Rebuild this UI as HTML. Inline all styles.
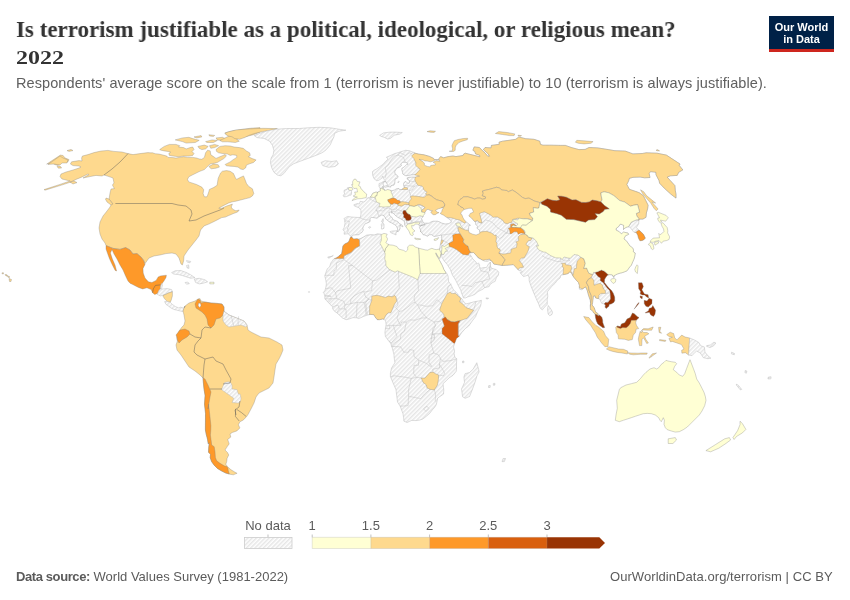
<!DOCTYPE html>
<html><head><meta charset="utf-8">
<style>
html,body{margin:0;padding:0;background:#fff;}
.t,svg,#logo{will-change:transform;}
body{width:850px;height:600px;overflow:hidden;position:relative;}
.t{position:absolute;white-space:nowrap;}
#title{left:16px;top:16px;font-family:"Liberation Serif",serif;font-weight:bold;font-size:24px;color:#333;transform:scaleX(0.958);transform-origin:0 0;}
#year{left:16px;top:48px;font-family:"Liberation Serif",serif;font-weight:bold;font-size:18px;color:#333;transform:scaleX(1.33);transform-origin:0 0;}
#sub{left:16px;top:74.5px;font-family:"Liberation Sans",sans-serif;font-size:14.5px;color:#606060;letter-spacing:0.09px;}
#src{left:16px;top:569px;font-family:"Liberation Sans",sans-serif;font-size:13px;color:#5b5b5b;}
#url{right:17.5px;top:569px;font-family:"Liberation Sans",sans-serif;font-size:13px;color:#5b5b5b;letter-spacing:0.06px;}
#logo{position:absolute;left:769px;top:16px;width:65px;height:36px;background:#002147;}
#logo .bar{position:absolute;left:0;bottom:0;width:65px;height:3px;background:#ce261e;}
#logo .tx{position:absolute;left:0;width:65px;text-align:center;color:#fff;font-family:"Liberation Sans",sans-serif;font-weight:bold;font-size:11px;line-height:12px;}
svg{position:absolute;left:0;top:0;}
.b{stroke:#7a7a7a;stroke-width:0.4;stroke-opacity:0.8;stroke-linejoin:round;}
.s{stroke:#7a7a7a;stroke-width:0.4;stroke-opacity:0.8;stroke-linejoin:round;}
.bn{stroke:#b5b5b5;stroke-width:0.45;stroke-linejoin:round;}
.ln{fill:none;stroke:#bdbdbd;stroke-width:0.45;stroke-linejoin:round;}
.l{fill:none;stroke:#555;stroke-width:0.6;stroke-opacity:0.75;}
.leg{font-family:"Liberation Sans",sans-serif;font-size:13px;fill:#5b5b5b;}
</style></head><body>
<div class="t" id="title">Is terrorism justifiable as a political, ideological, or religious mean?</div>
<div class="t" id="year">2022</div>
<div class="t" id="sub">Respondents' average score on the scale from 1 (terrorism is never justifiable) to 10 (terrorism is always justifiable).</div>
<div id="logo"><div class="tx" style="top:5px">Our World</div><div class="tx" style="top:17px">in Data</div><div class="bar"></div></div>
<svg width="850" height="600" viewBox="0 0 850 600">
<defs>
<pattern id="hatch" patternUnits="userSpaceOnUse" width="3" height="3" patternTransform="rotate(-45)">
<rect width="3" height="3" fill="#fff"/><rect y="0" width="3" height="1.5" fill="#e6e6e6"/>
</pattern>
</defs>
<g id="map">
<clipPath id="landclip"><path d="M351.2,236.8 L349.7,235.5 L348.3,233.7 L344.1,234.2 L344.4,231.6 L343.0,229.7 L344.2,227.4 L345.0,223.2 L344.7,219.9 L343.9,218.6 L345.8,217.5 L347.3,216.5 L351.5,217.0 L355.4,217.3 L359.6,217.5 L360.3,217.3 L360.9,214.4 L360.9,210.3 L358.9,207.7 L354.4,206.0 L353.9,204.7 L357.3,203.6 L359.3,203.9 L360.2,201.3 L363.6,201.9 L365.6,200.8 L367.2,198.1 L369.2,197.6 L370.6,196.8 L371.5,195.6 L372.8,193.3 L376.1,192.0 L377.5,192.3 L379.2,191.5 L380.4,190.8 L380.0,188.0 L379.0,186.6 L379.0,183.6 L381.4,182.7 L383.4,181.4 L385.7,181.4 L384.4,179.7 L383.2,178.3 L382.8,176.1 L381.7,178.3 L378.5,180.5 L376.6,180.7 L373.9,178.5 L372.6,174.9 L372.5,171.6 L374.6,169.9 L376.9,168.8 L379.4,166.9 L382.8,164.5 L385.2,161.8 L388.1,158.9 L386.4,157.3 L390.4,155.5 L395.0,153.5 L398.3,152.6 L402.2,151.3 L405.7,150.3 L409.4,150.7 L413.1,152.2 L415.1,153.2 L418.7,154.1 L423.9,154.8 L429.5,156.4 L433.6,158.4 L434.4,159.8 L438.9,159.8 L439.1,158.4 L440.6,156.6 L443.6,157.8 L448.2,156.6 L453.0,156.0 L455.9,156.6 L459.8,156.0 L462.9,155.5 L463.8,153.9 L465.2,153.2 L470.9,154.6 L476.7,156.0 L479.8,156.9 L479.7,155.3 L475.5,153.9 L474.9,151.5 L472.9,150.3 L474.2,146.9 L479.4,147.5 L482.5,150.7 L484.9,152.8 L487.8,156.2 L489.5,156.2 L488.1,153.9 L483.4,149.6 L485.1,147.5 L491.1,147.9 L491.4,145.4 L499.3,144.3 L499.0,142.2 L502.6,141.2 L509.2,140.3 L515.7,139.3 L518.8,137.0 L525.6,138.7 L534.0,139.3 L539.8,141.2 L540.4,144.3 L542.9,145.2 L550.9,145.2 L560.6,145.4 L565.4,145.4 L571.3,147.5 L578.9,149.6 L585.2,149.4 L589.0,147.5 L597.7,147.9 L608.3,149.6 L614.8,150.7 L625.3,151.1 L632.9,153.9 L642.3,153.5 L646.3,152.8 L657.0,153.2 L666.4,155.1 L680.1,164.1 L679.1,165.2 L682.8,169.9 L678.7,172.3 L677.2,175.4 L670.4,175.8 L667.2,177.1 L670.4,180.7 L674.9,185.6 L675.3,190.5 L676.0,194.3 L676.0,198.1 L671.0,194.3 L664.1,188.0 L659.6,183.2 L659.1,180.7 L656.0,174.7 L655.9,172.3 L650.5,171.6 L649.1,173.5 L650.0,177.5 L644.7,177.8 L640.2,177.1 L633.1,177.3 L629.4,178.3 L628.5,181.2 L626.8,184.4 L629.4,189.3 L639.0,192.6 L643.3,195.6 L645.8,200.6 L648.1,205.2 L647.6,208.8 L646.4,212.9 L646.0,217.3 L642.9,219.1 L639.7,219.1 L638.8,220.4 L638.7,223.7 L637.2,226.3 L636.2,227.6 L639.0,230.0 L643.4,234.2 L645.3,238.1 L644.2,239.4 L642.2,240.5 L639.9,240.7 L638.5,238.1 L637.9,235.5 L636.4,232.6 L634.1,232.4 L632.7,230.8 L629.9,227.1 L627.2,226.9 L624.6,228.2 L623.5,229.5 L623.5,227.6 L623.7,225.3 L620.4,224.0 L618.6,226.6 L616.2,228.4 L616.0,230.0 L619.4,231.8 L621.4,233.9 L623.6,232.1 L628.0,233.1 L628.6,234.4 L625.5,235.7 L623.9,238.9 L626.7,241.2 L629.7,245.7 L632.8,248.1 L633.5,250.2 L633.2,251.7 L635.2,253.0 L634.6,257.2 L633.6,259.9 L632.2,263.0 L631.4,265.1 L629.8,266.9 L626.9,270.9 L622.1,272.7 L620.5,273.0 L617.3,274.0 L614.2,275.6 L613.9,278.0 L612.2,274.8 L609.5,274.6 L607.3,275.3 L605.7,277.4 L604.6,279.3 L604.4,282.4 L606.6,285.3 L608.8,287.9 L611.5,290.5 L613.2,293.2 L614.6,297.1 L614.7,300.8 L613.7,302.4 L611.1,303.9 L609.3,304.2 L608.8,306.3 L606.1,308.4 L605.1,307.1 L605.5,305.0 L604.2,303.9 L601.8,303.4 L600.5,301.0 L600.1,299.5 L598.6,298.7 L595.6,297.9 L595.1,295.8 L593.3,296.1 L593.1,298.4 L592.6,302.6 L592.1,305.0 L593.8,307.1 L594.9,309.4 L595.7,312.3 L597.4,313.1 L599.6,314.9 L601.8,317.3 L602.6,320.2 L602.7,322.5 L603.6,324.9 L604.6,327.5 L603.0,327.8 L600.9,326.2 L597.8,323.9 L596.4,321.0 L595.6,317.8 L595.1,314.2 L593.7,313.1 L592.2,310.5 L590.3,309.4 L590.1,306.3 L590.6,303.7 L590.3,300.3 L588.7,295.8 L587.2,290.3 L585.6,286.9 L583.9,287.9 L581.9,289.8 L579.3,289.2 L579.4,285.3 L578.4,282.4 L576.3,280.3 L573.8,277.2 L572.6,275.3 L571.3,272.5 L569.4,271.9 L568.3,273.5 L565.2,274.3 L563.4,274.6 L560.8,275.3 L560.1,278.0 L557.2,280.3 L555.2,283.2 L551.5,286.6 L549.3,289.5 L547.3,291.9 L547.8,296.1 L547.2,299.7 L547.3,304.2 L545.4,306.5 L543.8,307.9 L542.3,310.0 L540.1,307.9 L538.8,304.2 L536.9,300.3 L535.0,295.8 L533.3,291.9 L530.9,285.8 L529.2,280.8 L529.1,277.4 L528.1,275.1 L526.8,275.6 L523.5,276.6 L520.1,272.7 L522.3,271.9 L521.5,270.9 L518.8,270.6 L517.5,269.0 L514.9,266.2 L513.3,264.6 L508.7,265.1 L503.8,265.4 L502.0,265.4 L497.3,264.6 L493.9,264.1 L491.7,260.9 L489.8,260.1 L487.9,261.4 L484.5,261.2 L480.9,259.3 L478.1,258.0 L476.0,255.1 L473.5,252.5 L471.3,252.8 L470.1,252.5 L469.8,254.1 L471.4,256.5 L472.6,258.6 L474.4,260.4 L476.1,262.2 L477.0,264.3 L478.4,262.8 L479.6,264.8 L479.6,266.9 L480.8,268.3 L483.0,267.7 L486.4,267.5 L488.3,264.3 L489.5,263.0 L490.1,262.2 L490.3,265.9 L491.6,268.3 L494.2,269.0 L496.3,269.6 L498.8,272.2 L498.4,275.1 L496.4,277.7 L495.1,281.4 L492.9,282.4 L490.1,284.5 L489.1,286.6 L484.6,287.7 L482.9,289.2 L478.0,291.6 L474.7,294.5 L471.3,295.8 L467.9,296.8 L465.7,297.9 L463.4,297.9 L462.9,296.3 L461.6,293.2 L460.8,290.3 L458.2,285.3 L455.6,280.1 L452.3,274.8 L450.4,269.6 L447.1,264.3 L444.1,260.9 L442.1,257.5 L441.1,253.8 L440.4,256.5 L439.9,258.3 L438.2,257.0 L435.9,252.8 L435.8,253.8 L437.0,256.2 L439.1,259.6 L442.3,265.6 L443.9,269.6 L446.8,273.5 L448.1,276.1 L448.6,281.4 L451.3,285.3 L453.4,289.8 L456.3,292.4 L459.2,296.1 L462.5,299.5 L463.0,300.8 L465.9,303.9 L469.4,303.1 L473.9,301.8 L478.5,301.0 L481.4,300.3 L481.1,303.7 L480.5,306.3 L477.7,311.5 L475.5,316.8 L472.1,321.2 L468.7,326.0 L465.3,328.6 L461.8,332.5 L459.5,335.9 L456.4,338.5 L454.8,343.0 L453.5,346.9 L454.6,350.9 L454.1,353.5 L454.9,357.4 L456.7,358.7 L456.5,364.0 L456.5,369.2 L456.2,371.3 L453.0,375.3 L449.0,377.9 L446.6,380.5 L443.0,383.7 L443.5,387.6 L443.8,390.2 L443.5,394.1 L437.7,398.1 L437.2,400.7 L436.3,404.6 L434.7,407.3 L432.3,409.9 L429.8,413.3 L426.2,416.4 L422.7,419.1 L419.7,420.1 L416.0,420.6 L411.6,420.4 L407.1,422.5 L403.9,421.2 L403.6,417.7 L403.0,413.8 L400.2,406.2 L397.5,402.0 L396.2,391.5 L396.0,389.7 L393.4,383.7 L390.4,376.6 L390.4,373.2 L391.6,367.9 L394.9,362.7 L394.3,358.7 L393.9,354.3 L392.3,348.2 L391.6,346.4 L390.7,343.0 L388.8,341.2 L385.4,336.4 L384.9,332.5 L385.4,328.6 L386.1,324.6 L385.6,320.7 L383.8,319.4 L382.6,318.9 L379.6,319.7 L377.3,319.9 L375.0,316.8 L373.8,314.7 L370.3,314.4 L366.9,315.2 L363.4,316.5 L358.8,318.6 L356.5,317.8 L353.0,317.6 L349.5,318.9 L346.1,319.7 L342.6,318.1 L339.1,314.9 L336.8,312.8 L334.5,311.3 L332.7,308.9 L332.7,306.8 L330.0,304.4 L328.4,302.4 L326.1,300.3 L324.8,298.4 L324.8,295.8 L323.9,293.2 L323.3,292.6 L324.9,290.5 L325.7,287.9 L326.4,284.0 L325.8,280.1 L324.8,276.1 L326.0,272.2 L327.3,268.8 L329.6,266.9 L330.8,263.0 L333.6,259.1 L336.6,257.8 L340.0,255.1 L341.6,253.8 L342.1,251.2 L342.9,246.0 L344.7,243.9 L348.0,242.6 L349.2,240.7 L350.3,237.6 L351.7,237.1Z"/></clipPath>
<path d="M351.2,236.8 L349.7,235.5 L348.3,233.7 L344.1,234.2 L344.4,231.6 L343.0,229.7 L344.2,227.4 L345.0,223.2 L344.7,219.9 L343.9,218.6 L345.8,217.5 L347.3,216.5 L351.5,217.0 L355.4,217.3 L359.6,217.5 L360.3,217.3 L360.9,214.4 L360.9,210.3 L358.9,207.7 L354.4,206.0 L353.9,204.7 L357.3,203.6 L359.3,203.9 L360.2,201.3 L363.6,201.9 L365.6,200.8 L367.2,198.1 L369.2,197.6 L370.6,196.8 L371.5,195.6 L372.8,193.3 L376.1,192.0 L377.5,192.3 L379.2,191.5 L380.4,190.8 L380.0,188.0 L379.0,186.6 L379.0,183.6 L381.4,182.7 L383.4,181.4 L385.7,181.4 L384.4,179.7 L383.2,178.3 L382.8,176.1 L381.7,178.3 L378.5,180.5 L376.6,180.7 L373.9,178.5 L372.6,174.9 L372.5,171.6 L374.6,169.9 L376.9,168.8 L379.4,166.9 L382.8,164.5 L385.2,161.8 L388.1,158.9 L386.4,157.3 L390.4,155.5 L395.0,153.5 L398.3,152.6 L402.2,151.3 L405.7,150.3 L409.4,150.7 L413.1,152.2 L415.1,153.2 L418.7,154.1 L423.9,154.8 L429.5,156.4 L433.6,158.4 L434.4,159.8 L438.9,159.8 L439.1,158.4 L440.6,156.6 L443.6,157.8 L448.2,156.6 L453.0,156.0 L455.9,156.6 L459.8,156.0 L462.9,155.5 L463.8,153.9 L465.2,153.2 L470.9,154.6 L476.7,156.0 L479.8,156.9 L479.7,155.3 L475.5,153.9 L474.9,151.5 L472.9,150.3 L474.2,146.9 L479.4,147.5 L482.5,150.7 L484.9,152.8 L487.8,156.2 L489.5,156.2 L488.1,153.9 L483.4,149.6 L485.1,147.5 L491.1,147.9 L491.4,145.4 L499.3,144.3 L499.0,142.2 L502.6,141.2 L509.2,140.3 L515.7,139.3 L518.8,137.0 L525.6,138.7 L534.0,139.3 L539.8,141.2 L540.4,144.3 L542.9,145.2 L550.9,145.2 L560.6,145.4 L565.4,145.4 L571.3,147.5 L578.9,149.6 L585.2,149.4 L589.0,147.5 L597.7,147.9 L608.3,149.6 L614.8,150.7 L625.3,151.1 L632.9,153.9 L642.3,153.5 L646.3,152.8 L657.0,153.2 L666.4,155.1 L680.1,164.1 L679.1,165.2 L682.8,169.9 L678.7,172.3 L677.2,175.4 L670.4,175.8 L667.2,177.1 L670.4,180.7 L674.9,185.6 L675.3,190.5 L676.0,194.3 L676.0,198.1 L671.0,194.3 L664.1,188.0 L659.6,183.2 L659.1,180.7 L656.0,174.7 L655.9,172.3 L650.5,171.6 L649.1,173.5 L650.0,177.5 L644.7,177.8 L640.2,177.1 L633.1,177.3 L629.4,178.3 L628.5,181.2 L626.8,184.4 L629.4,189.3 L639.0,192.6 L643.3,195.6 L645.8,200.6 L648.1,205.2 L647.6,208.8 L646.4,212.9 L646.0,217.3 L642.9,219.1 L639.7,219.1 L638.8,220.4 L638.7,223.7 L637.2,226.3 L636.2,227.6 L639.0,230.0 L643.4,234.2 L645.3,238.1 L644.2,239.4 L642.2,240.5 L639.9,240.7 L638.5,238.1 L637.9,235.5 L636.4,232.6 L634.1,232.4 L632.7,230.8 L629.9,227.1 L627.2,226.9 L624.6,228.2 L623.5,229.5 L623.5,227.6 L623.7,225.3 L620.4,224.0 L618.6,226.6 L616.2,228.4 L616.0,230.0 L619.4,231.8 L621.4,233.9 L623.6,232.1 L628.0,233.1 L628.6,234.4 L625.5,235.7 L623.9,238.9 L626.7,241.2 L629.7,245.7 L632.8,248.1 L633.5,250.2 L633.2,251.7 L635.2,253.0 L634.6,257.2 L633.6,259.9 L632.2,263.0 L631.4,265.1 L629.8,266.9 L626.9,270.9 L622.1,272.7 L620.5,273.0 L617.3,274.0 L614.2,275.6 L613.9,278.0 L612.2,274.8 L609.5,274.6 L607.3,275.3 L605.7,277.4 L604.6,279.3 L604.4,282.4 L606.6,285.3 L608.8,287.9 L611.5,290.5 L613.2,293.2 L614.6,297.1 L614.7,300.8 L613.7,302.4 L611.1,303.9 L609.3,304.2 L608.8,306.3 L606.1,308.4 L605.1,307.1 L605.5,305.0 L604.2,303.9 L601.8,303.4 L600.5,301.0 L600.1,299.5 L598.6,298.7 L595.6,297.9 L595.1,295.8 L593.3,296.1 L593.1,298.4 L592.6,302.6 L592.1,305.0 L593.8,307.1 L594.9,309.4 L595.7,312.3 L597.4,313.1 L599.6,314.9 L601.8,317.3 L602.6,320.2 L602.7,322.5 L603.6,324.9 L604.6,327.5 L603.0,327.8 L600.9,326.2 L597.8,323.9 L596.4,321.0 L595.6,317.8 L595.1,314.2 L593.7,313.1 L592.2,310.5 L590.3,309.4 L590.1,306.3 L590.6,303.7 L590.3,300.3 L588.7,295.8 L587.2,290.3 L585.6,286.9 L583.9,287.9 L581.9,289.8 L579.3,289.2 L579.4,285.3 L578.4,282.4 L576.3,280.3 L573.8,277.2 L572.6,275.3 L571.3,272.5 L569.4,271.9 L568.3,273.5 L565.2,274.3 L563.4,274.6 L560.8,275.3 L560.1,278.0 L557.2,280.3 L555.2,283.2 L551.5,286.6 L549.3,289.5 L547.3,291.9 L547.8,296.1 L547.2,299.7 L547.3,304.2 L545.4,306.5 L543.8,307.9 L542.3,310.0 L540.1,307.9 L538.8,304.2 L536.9,300.3 L535.0,295.8 L533.3,291.9 L530.9,285.8 L529.2,280.8 L529.1,277.4 L528.1,275.1 L526.8,275.6 L523.5,276.6 L520.1,272.7 L522.3,271.9 L521.5,270.9 L518.8,270.6 L517.5,269.0 L514.9,266.2 L513.3,264.6 L508.7,265.1 L503.8,265.4 L502.0,265.4 L497.3,264.6 L493.9,264.1 L491.7,260.9 L489.8,260.1 L487.9,261.4 L484.5,261.2 L480.9,259.3 L478.1,258.0 L476.0,255.1 L473.5,252.5 L471.3,252.8 L470.1,252.5 L469.8,254.1 L471.4,256.5 L472.6,258.6 L474.4,260.4 L476.1,262.2 L477.0,264.3 L478.4,262.8 L479.6,264.8 L479.6,266.9 L480.8,268.3 L483.0,267.7 L486.4,267.5 L488.3,264.3 L489.5,263.0 L490.1,262.2 L490.3,265.9 L491.6,268.3 L494.2,269.0 L496.3,269.6 L498.8,272.2 L498.4,275.1 L496.4,277.7 L495.1,281.4 L492.9,282.4 L490.1,284.5 L489.1,286.6 L484.6,287.7 L482.9,289.2 L478.0,291.6 L474.7,294.5 L471.3,295.8 L467.9,296.8 L465.7,297.9 L463.4,297.9 L462.9,296.3 L461.6,293.2 L460.8,290.3 L458.2,285.3 L455.6,280.1 L452.3,274.8 L450.4,269.6 L447.1,264.3 L444.1,260.9 L442.1,257.5 L441.1,253.8 L440.4,256.5 L439.9,258.3 L438.2,257.0 L435.9,252.8 L435.8,253.8 L437.0,256.2 L439.1,259.6 L442.3,265.6 L443.9,269.6 L446.8,273.5 L448.1,276.1 L448.6,281.4 L451.3,285.3 L453.4,289.8 L456.3,292.4 L459.2,296.1 L462.5,299.5 L463.0,300.8 L465.9,303.9 L469.4,303.1 L473.9,301.8 L478.5,301.0 L481.4,300.3 L481.1,303.7 L480.5,306.3 L477.7,311.5 L475.5,316.8 L472.1,321.2 L468.7,326.0 L465.3,328.6 L461.8,332.5 L459.5,335.9 L456.4,338.5 L454.8,343.0 L453.5,346.9 L454.6,350.9 L454.1,353.5 L454.9,357.4 L456.7,358.7 L456.5,364.0 L456.5,369.2 L456.2,371.3 L453.0,375.3 L449.0,377.9 L446.6,380.5 L443.0,383.7 L443.5,387.6 L443.8,390.2 L443.5,394.1 L437.7,398.1 L437.2,400.7 L436.3,404.6 L434.7,407.3 L432.3,409.9 L429.8,413.3 L426.2,416.4 L422.7,419.1 L419.7,420.1 L416.0,420.6 L411.6,420.4 L407.1,422.5 L403.9,421.2 L403.6,417.7 L403.0,413.8 L400.2,406.2 L397.5,402.0 L396.2,391.5 L396.0,389.7 L393.4,383.7 L390.4,376.6 L390.4,373.2 L391.6,367.9 L394.9,362.7 L394.3,358.7 L393.9,354.3 L392.3,348.2 L391.6,346.4 L390.7,343.0 L388.8,341.2 L385.4,336.4 L384.9,332.5 L385.4,328.6 L386.1,324.6 L385.6,320.7 L383.8,319.4 L382.6,318.9 L379.6,319.7 L377.3,319.9 L375.0,316.8 L373.8,314.7 L370.3,314.4 L366.9,315.2 L363.4,316.5 L358.8,318.6 L356.5,317.8 L353.0,317.6 L349.5,318.9 L346.1,319.7 L342.6,318.1 L339.1,314.9 L336.8,312.8 L334.5,311.3 L332.7,308.9 L332.7,306.8 L330.0,304.4 L328.4,302.4 L326.1,300.3 L324.8,298.4 L324.8,295.8 L323.9,293.2 L323.3,292.6 L324.9,290.5 L325.7,287.9 L326.4,284.0 L325.8,280.1 L324.8,276.1 L326.0,272.2 L327.3,268.8 L329.6,266.9 L330.8,263.0 L333.6,259.1 L336.6,257.8 L340.0,255.1 L341.6,253.8 L342.1,251.2 L342.9,246.0 L344.7,243.9 L348.0,242.6 L349.2,240.7 L350.3,237.6 L351.7,237.1Z" fill="url(#hatch)" class="bn"/>
<g clip-path="url(#landclip)"><path d="M408.2,146.4 L415.1,153.2 L412.9,154.6 L411.6,156.2 L413.9,158.4 L414.8,160.7 L415.9,162.9 L415.6,165.2 L417.9,167.6 L420.1,169.2 L418.0,171.8 L415.7,173.9 L414.6,174.7 L415.4,177.1 L415.0,177.8 L414.8,179.5 L415.3,181.2 L416.1,182.4 L417.2,184.4 L418.4,185.4 L422.0,186.1 L423.3,187.8 L423.4,189.3 L425.3,191.0 L427.1,192.3 L425.4,193.8 L427.1,195.3 L429.6,194.8 L431.9,196.3 L434.0,198.1 L436.6,199.8 L439.8,200.6 L443.0,201.6 L444.6,204.4 L444.5,206.2 L441.8,207.7 L440.0,212.1 L439.2,213.4 L441.1,214.9 L446.4,218.0 L447.2,217.5 L450.4,217.8 L453.2,218.3 L455.9,219.3 L459.2,219.9 L461.6,221.4 L464.8,223.2 L466.1,221.7 L464.0,216.0 L462.7,212.1 L465.3,210.0 L462.9,207.7 L460.3,206.5 L458.9,204.9 L457.8,204.7 L458.7,201.3 L460.0,199.6 L460.8,199.1 L463.8,196.8 L467.7,196.8 L472.1,198.1 L474.5,199.1 L477.1,198.1 L480.1,198.1 L482.5,199.3 L485.3,198.6 L485.6,196.8 L482.2,195.6 L483.3,193.3 L482.5,191.0 L484.2,190.5 L489.6,189.3 L496.5,187.3 L499.7,188.0 L501.6,190.0 L506.7,190.5 L508.2,191.8 L512.3,190.0 L516.1,192.3 L522.7,197.6 L525.2,198.6 L529.0,198.1 L534.5,201.1 L539.8,202.6 L540.9,201.9 L544.3,200.6 L547.3,198.8 L552.2,200.3 L556.5,200.8 L559.9,199.8 L557.7,196.1 L561.8,196.3 L566.4,197.3 L572.1,200.1 L576.0,199.8 L581.5,202.4 L585.7,202.6 L589.3,201.9 L592.2,200.1 L596.7,200.8 L601.0,201.9 L602.1,199.8 L601.3,196.1 L600.9,192.8 L604.1,191.8 L608.8,192.8 L613.8,195.6 L619.7,200.6 L624.7,202.1 L630.5,206.2 L633.9,205.2 L637.6,204.7 L638.2,207.0 L639.6,212.1 L636.3,213.4 L636.8,216.0 L638.8,218.6 L638.3,219.9 L641.5,223.7 L683.6,226.3 L749.7,226.3 L739.1,213.4 L727.2,200.6 L713.4,188.0 L698.2,175.8 L681.9,164.1 L664.6,152.8 L645.6,142.2 L623.8,132.5 L607.4,126.3 L565.6,126.3 L525.2,126.3 L484.7,126.3 L444.3,126.3 L408.2,146.4Z" fill="#fed98e" class="b"/>
<path d="M401.5,189.5 L407.7,189.5 L407.3,187.8 L404.3,187.3 L402.1,188.0Z" fill="#fed98e" class="b"/>
<path d="M464.7,210.0 L462.9,207.7 L460.3,206.5 L458.9,204.9 L457.8,204.7 L458.7,201.3 L460.0,199.6 L460.8,199.1 L463.8,196.8 L467.7,196.8 L472.1,198.1 L474.5,199.1 L477.1,198.1 L480.1,198.1 L482.5,199.3 L485.3,198.6 L485.6,196.8 L482.2,195.6 L483.3,193.3 L482.5,191.0 L484.2,190.5 L489.6,189.3 L496.5,187.3 L499.7,188.0 L501.6,190.0 L506.7,190.5 L508.2,191.8 L512.3,190.0 L516.1,192.3 L522.7,197.6 L525.2,198.6 L529.0,198.1 L534.5,201.1 L539.8,202.6 L539.6,204.4 L538.9,208.0 L537.6,208.3 L533.3,207.7 L533.7,212.1 L529.4,213.4 L530.6,216.0 L532.8,218.0 L532.5,220.6 L529.4,219.1 L525.0,218.6 L521.0,219.1 L517.6,218.3 L512.8,219.6 L511.6,222.4 L509.5,222.7 L507.7,223.7 L504.8,223.2 L502.3,219.9 L497.3,217.0 L493.2,217.3 L490.4,214.9 L484.4,211.8 L479.6,213.4 L482.1,223.0 L480.0,223.0 L477.2,220.4 L475.0,221.7 L470.5,218.6 L467.5,214.7 L467.9,212.1 L470.3,209.5 L465.3,210.0Z" fill="#fed98e" class="b"/>
<path d="M408.3,204.7 L409.1,201.6 L411.4,198.8 L410.3,196.6 L412.9,195.8 L419.0,196.6 L424.1,197.3 L426.3,195.3 L429.0,194.8 L431.7,196.3 L434.0,198.1 L436.6,199.8 L439.8,200.6 L443.0,201.6 L444.6,204.4 L444.5,206.2 L441.8,207.7 L440.4,208.8 L437.9,210.0 L439.6,212.6 L436.4,215.7 L432.9,215.7 L430.0,212.1 L427.3,210.3 L426.1,211.8 L425.4,212.9 L421.7,212.1 L421.5,210.3 L422.8,209.5 L424.8,207.5 L422.9,206.0 L420.3,204.9 L418.2,204.7 L417.5,205.2 L414.2,206.5 L410.3,206.0 L408.3,204.7Z" fill="#fed98e" class="b"/>
<path d="M370.2,197.3 L372.2,197.1 L375.2,198.1 L375.3,196.1 L376.9,195.8 L377.2,194.3 L377.5,192.3 L375.1,190.5 L369.3,193.1 L370.0,197.1Z" fill="#ffffd4" class="b"/>
<path d="M375.6,198.6 L376.3,201.9 L378.6,202.9 L380.0,203.4 L378.9,206.7 L381.0,206.7 L382.8,207.0 L384.8,207.0 L388.3,206.7 L390.0,207.0 L391.0,204.2 L388.6,202.1 L387.9,199.8 L391.9,198.3 L392.9,198.1 L393.2,196.8 L392.2,194.3 L391.2,192.3 L391.3,190.5 L388.6,189.0 L384.8,189.3 L382.6,188.5 L380.2,188.3 L379.4,190.5 L377.5,192.3 L377.2,194.3 L376.9,195.8 L375.3,196.1 L375.2,198.1Z" fill="#ffffd4" class="b"/>
<path d="M387.7,199.8 L388.6,202.1 L391.0,204.2 L393.2,204.2 L393.7,203.1 L397.7,204.2 L399.4,203.4 L400.9,201.9 L399.4,200.6 L397.1,200.1 L395.8,198.8 L393.9,198.1 L391.9,198.3 L387.9,199.8Z" fill="#fe9929" class="b"/>
<path d="M397.7,204.2 L398.4,205.7 L401.7,206.2 L405.0,204.4 L409.1,204.7 L408.9,202.9 L405.8,202.1 L402.7,201.6 L400.9,201.9 L399.4,203.4Z" fill="#fed98e" class="b"/>
<path d="M405.2,210.6 L407.0,209.8 L408.4,207.2 L410.0,205.7 L414.2,206.5 L417.5,205.2 L421.2,208.5 L421.7,212.1 L426.0,212.6 L425.8,214.7 L424.0,216.7 L423.2,216.7 L420.1,215.7 L416.7,217.0 L413.6,216.7 L410.8,216.2 L410.0,214.7 L407.9,213.9 L405.2,210.6Z" fill="#ffffd4" class="b"/>
<path d="M402.9,213.6 L403.8,214.9 L403.6,217.3 L405.4,218.6 L406.2,220.4 L408.7,220.4 L410.6,219.9 L411.4,218.0 L410.0,214.7 L407.9,213.9 L406.9,212.9 L405.4,210.6 L403.8,210.3 L402.7,212.1Z" fill="#993404" class="b"/>
<path d="M405.7,226.9 L407.4,224.3 L408.0,224.0 L411.3,223.5 L414.2,222.2 L418.6,221.9 L419.8,223.0 L418.9,224.5 L418.2,227.6 L420.4,230.8 L421.8,234.2 L417.7,236.8 L412.3,237.3 L409.6,235.5 L407.8,232.1 L407.0,229.5Z" fill="#ffffd4" class="b"/>
<path d="M455.7,223.5 L459.3,222.7 L460.3,224.3 L461.2,226.3 L463.0,228.4 L462.6,229.5 L459.8,226.9 L457.2,225.8 L456.2,225.0Z" fill="#ffffd4" class="b"/>
<path d="M448.6,243.6 L453.1,241.0 L452.7,235.2 L455.1,233.9 L460.2,233.7 L462.3,237.1 L463.8,239.4 L463.1,242.0 L465.7,244.7 L468.1,246.2 L469.3,249.9 L471.2,252.5 L469.5,252.8 L468.2,254.9 L467.0,254.9 L463.0,254.6 L456.4,249.6 L452.6,247.5 L449.4,246.5 L448.6,243.6Z" fill="#fe9929" class="b"/>
<path d="M457.8,227.9 L459.2,227.1 L463.2,229.2 L466.6,230.3 L469.8,230.3 L473.3,231.6 L477.6,231.6 L480.3,232.1 L482.9,231.6 L486.8,231.3 L491.4,232.9 L494.5,235.2 L496.1,235.2 L496.4,237.8 L496.0,242.0 L497.1,243.3 L496.9,246.0 L498.1,248.6 L499.9,249.1 L500.4,250.4 L498.9,253.0 L500.2,254.4 L503.0,257.0 L505.2,259.9 L504.3,261.4 L502.1,265.1 L502.3,268.3 L490.7,265.6 L489.9,259.1 L482.2,260.4 L474.9,255.1 L471.5,252.8 L469.9,251.2 L469.1,249.9 L468.1,246.2 L465.7,244.7 L463.1,242.0 L463.8,239.4 L462.3,237.1 L460.2,233.7 L458.8,231.6 L457.8,227.9Z" fill="#fed98e" class="b"/>
<path d="M441.3,254.1 L443.6,254.6 L445.5,251.2 L447.7,251.2 L445.2,248.6 L449.4,246.5 L448.6,243.6 L444.5,246.5 L441.8,245.4 L441.9,248.6Z" fill="#ffffd4" class="b"/>
<path d="M440.6,244.4 L441.6,244.1 L443.1,241.5 L443.4,240.5 L441.8,239.7 L440.5,241.5 L439.6,243.6Z" fill="#fed98e" class="b"/>
<path d="M418.3,243.3 L427.3,246.5 L434.0,246.8 L439.0,248.3 L441.3,253.8 L440.5,257.8 L446.1,273.5 L434.8,273.5 L420.1,273.5Z" fill="#ffffd4" class="b"/>
<path d="M384.5,252.0 L385.5,248.6 L388.7,244.4 L389.7,242.0 L407.2,242.0 L418.3,243.3 L420.1,273.5 L418.0,278.7 L418.0,280.1 L413.4,277.4 L397.3,270.9 L395.1,272.2 L389.4,269.6 L385.9,265.6 L385.8,261.7 L384.7,259.1 L385.2,253.8Z" fill="#ffffd4" class="b"/>
<path d="M381.1,233.7 L383.9,232.1 L388.2,232.9 L389.5,236.8 L389.7,242.0 L388.7,244.4 L385.5,248.6 L384.5,252.0 L381.5,246.0 L379.9,243.3 L381.3,240.5 L381.4,236.8Z" fill="#ffffd4" class="b"/>
<path d="M350.6,237.1 L351.9,236.9 L353.6,238.4 L358.6,238.6 L359.5,240.7 L359.7,246.0 L355.2,248.3 L351.2,252.5 L344.0,255.9 L343.9,258.6 L333.9,258.6 L332.1,257.8 L338.8,256.5 L340.0,253.8 L341.2,249.9 L341.8,246.0 L343.6,243.3 L347.0,241.5 L348.6,239.4 L349.7,237.1Z" fill="#fe9929" class="b"/>
<path d="M369.6,314.4 L369.6,306.3 L371.7,300.5 L371.7,296.3 L373.0,295.8 L377.2,295.3 L381.3,296.3 L385.2,297.4 L388.7,296.1 L392.1,296.8 L394.6,295.3 L396.0,297.1 L396.8,301.0 L394.5,304.2 L392.9,308.1 L390.9,312.8 L388.3,312.8 L386.0,314.9 L383.8,319.4 L379.6,320.7 L375.0,318.1 L373.8,315.5 L369.6,315.5Z" fill="#fed98e" class="b"/>
<path d="M439.6,310.2 L441.7,303.7 L444.6,298.4 L447.2,293.7 L450.3,292.1 L451.7,293.4 L455.6,293.4 L458.7,296.6 L460.9,298.4 L459.6,301.8 L462.5,303.7 L466.1,307.6 L473.7,310.2 L467.2,318.3 L460.1,320.7 L458.3,321.0 L454.8,322.0 L451.3,321.8 L447.1,319.4 L444.3,318.1 L443.6,313.9Z" fill="#fed98e" class="b"/>
<path d="M442.0,319.1 L445.5,317.0 L447.1,319.4 L451.3,321.8 L454.8,322.0 L458.3,321.0 L460.3,320.7 L458.3,323.9 L458.3,335.7 L460.6,336.4 L458.3,340.4 L454.1,343.5 L450.6,340.4 L442.1,333.8 L442.1,328.6 L444.4,326.0Z" fill="#d95f0e" class="b"/>
<path d="M421.2,377.9 L425.0,378.1 L429.8,372.6 L433.0,372.1 L435.5,373.7 L438.6,375.0 L438.4,379.7 L437.5,385.0 L434.3,389.9 L430.0,389.4 L426.9,387.8 L426.4,385.0 L423.0,382.3Z" fill="#fed98e" class="b"/>
<path d="M511.7,227.6 L514.6,227.4 L520.9,227.9 L522.6,225.0 L526.1,225.3 L529.2,222.7 L532.5,220.6 L530.7,219.9 L527.2,218.8 L523.0,218.8 L518.6,218.0 L517.9,219.9 L513.1,219.3 L512.8,220.4 L515.2,222.4 L518.0,224.0 L516.3,225.8 L513.5,225.0 L511.7,226.1Z" fill="#ffffd4" class="b"/>
<path d="M510.0,233.7 L511.5,233.7 L514.2,231.8 L517.0,231.8 L518.3,234.2 L521.0,232.9 L525.3,233.7 L523.5,230.3 L520.9,227.9 L514.6,227.4 L511.7,227.6 L511.7,226.1 L513.5,225.0 L516.3,225.8 L513.5,223.7 L510.7,224.3 L510.2,227.6 L508.0,228.4 L509.7,230.0Z" fill="#fe9929" class="b"/>
<path d="M502.1,265.1 L504.3,261.4 L505.2,259.9 L503.0,257.0 L500.2,254.4 L498.9,253.0 L502.6,254.1 L505.9,253.8 L510.8,252.8 L511.1,249.4 L513.7,248.3 L516.4,247.5 L517.1,243.3 L515.7,242.0 L518.7,240.7 L518.2,236.8 L520.4,234.7 L524.6,234.2 L527.0,235.0 L528.7,237.3 L532.2,238.1 L530.7,240.5 L528.5,240.7 L526.0,244.1 L527.5,246.0 L529.4,246.5 L528.4,249.9 L527.8,251.7 L526.6,253.8 L524.3,257.8 L521.3,258.3 L519.2,260.4 L522.0,263.8 L523.6,267.2 L520.3,267.7 L518.6,268.8 L517.7,270.9 L512.4,268.3 L502.3,266.9Z" fill="#fed98e" class="b"/>
<path d="M563.1,273.5 L563.6,267.7 L562.1,266.7 L562.7,265.1 L561.5,263.5 L565.2,263.0 L565.8,264.8 L570.9,265.4 L571.7,267.7 L570.8,270.9 L572.8,274.8 L572.9,277.2 L568.9,276.1 L563.2,276.1Z" fill="#fed98e" class="b"/>
<path d="M572.7,275.6 L573.5,273.5 L574.1,268.8 L576.3,268.3 L576.7,264.3 L577.0,261.4 L578.9,259.6 L580.8,257.2 L583.8,258.8 L585.3,263.3 L583.8,268.5 L586.6,268.0 L588.8,273.2 L592.7,274.6 L591.2,277.7 L588.4,279.3 L586.4,282.7 L588.5,286.6 L589.1,290.5 L591.2,295.3 L591.3,299.2 L590.6,303.7 L590.1,306.3 L584.2,299.7 L583.2,289.2 L576.0,286.6 L572.7,278.7Z" fill="#fed98e" class="b"/>
<path d="M586.4,282.7 L588.4,279.3 L591.2,277.7 L592.2,278.5 L593.8,280.1 L594.1,285.3 L597.3,284.0 L600.4,283.2 L602.6,285.6 L603.5,289.0 L605.3,290.5 L605.5,293.4 L600.9,293.4 L598.8,295.5 L598.6,298.7 L595.7,299.7 L593.4,299.7 L595.4,310.2 L597.4,313.1 L598.7,316.0 L596.8,314.7 L594.7,314.2 L592.7,311.5 L590.3,310.2 L590.5,305.2 L591.3,299.2 L591.2,295.3 L589.1,290.5 L588.5,286.6Z" fill="#fed98e" class="b"/>
<path d="M594.8,272.5 L597.6,271.7 L601.5,270.1 L604.8,271.4 L608.1,274.6 L610.9,276.1 L615.6,291.9 L616.7,302.4 L610.2,307.6 L603.5,310.2 L604.2,303.9 L605.2,302.6 L608.0,302.4 L610.6,298.9 L610.2,293.2 L609.7,290.5 L607.0,287.7 L603.3,282.7 L600.2,280.6 L600.5,278.0 L598.0,276.6Z" fill="#993404" class="b"/>
<path d="M594.7,314.2 L596.8,314.7 L598.7,316.0 L599.6,314.9 L603.9,318.1 L606.5,327.3 L604.6,328.1 L603.0,328.6 L597.2,326.0 L594.7,320.7 L594.1,315.5Z" fill="#993404" class="b"/>
<path d="M520.6,227.6 L522.0,225.0 L526.1,225.3 L529.2,222.7 L532.5,220.6 L532.8,218.0 L530.6,216.0 L529.4,213.4 L533.7,212.1 L533.3,207.7 L537.6,208.3 L538.9,208.0 L539.6,204.4 L539.8,202.6 L541.9,204.2 L546.9,206.2 L550.4,209.3 L550.6,212.1 L556.4,213.4 L561.4,215.2 L566.3,219.3 L573.8,219.6 L585.5,222.2 L588.6,219.9 L594.8,219.6 L597.4,216.7 L595.0,213.6 L599.2,213.9 L603.1,211.6 L604.8,209.3 L609.2,208.8 L604.7,205.7 L601.0,201.9 L602.1,199.8 L601.3,196.1 L600.9,192.8 L604.1,191.8 L608.8,192.8 L613.8,195.6 L619.7,200.6 L624.7,202.1 L630.5,206.2 L633.9,205.2 L637.6,204.7 L638.2,207.0 L639.6,212.1 L636.3,213.4 L636.8,216.0 L638.8,218.6 L638.3,219.9 L636.2,220.1 L633.6,221.2 L631.2,222.4 L629.6,225.3 L628.6,226.6 L627.1,229.0 L641.3,252.5 L640.9,278.7 L609.8,276.1 L608.1,274.6 L604.8,271.4 L601.5,270.1 L597.6,271.7 L594.8,272.5 L593.7,272.2 L592.7,274.6 L588.8,273.2 L586.6,268.0 L583.8,268.5 L585.3,263.3 L583.8,258.8 L580.8,257.2 L577.9,255.1 L574.0,254.6 L570.3,258.3 L568.0,258.0 L564.0,257.0 L562.3,259.6 L560.4,258.0 L555.6,257.8 L550.8,255.7 L545.6,252.3 L543.4,252.0 L539.6,250.4 L537.7,248.6 L536.3,245.7 L538.6,246.0 L536.3,241.2 L533.3,238.1 L528.7,237.3 L527.0,235.0 L524.6,234.2 L525.3,232.9 L524.4,230.3Z" fill="#ffffd4" class="b"/>
<path d="M540.8,202.6 L544.3,200.6 L547.3,198.8 L552.2,200.3 L556.5,200.8 L559.9,199.8 L557.7,196.1 L561.8,196.3 L566.4,197.3 L572.1,200.1 L576.0,199.8 L581.5,202.4 L585.7,202.6 L589.3,201.9 L592.2,200.1 L596.7,200.8 L601.0,201.9 L604.7,205.7 L609.2,208.8 L604.8,209.3 L603.1,211.6 L599.2,213.9 L595.0,213.6 L597.4,216.7 L594.8,219.6 L588.6,219.9 L585.5,222.2 L573.8,219.6 L566.3,219.3 L561.4,215.2 L556.4,213.4 L550.6,212.1 L550.4,209.3 L546.9,206.2 L541.9,204.2Z" fill="#993404" class="b"/>
<path d="M635.4,232.4 L636.4,231.8 L637.7,230.8 L639.2,230.0 L644.7,234.2 L648.3,242.0 L640.0,243.3 L636.8,238.1 L635.4,232.4Z" fill="#fe9929" class="b"/></g>
<clipPath id="cclip"><path d="M408.2,146.4 L415.1,153.2 L412.9,154.6 L411.6,156.2 L413.9,158.4 L414.8,160.7 L415.9,162.9 L415.6,165.2 L417.9,167.6 L420.1,169.2 L418.0,171.8 L415.7,173.9 L414.6,174.7 L415.4,177.1 L415.0,177.8 L414.8,179.5 L415.3,181.2 L416.1,182.4 L417.2,184.4 L418.4,185.4 L422.0,186.1 L423.3,187.8 L423.4,189.3 L425.3,191.0 L427.1,192.3 L425.4,193.8 L427.1,195.3 L429.6,194.8 L431.9,196.3 L434.0,198.1 L436.6,199.8 L439.8,200.6 L443.0,201.6 L444.6,204.4 L444.5,206.2 L441.8,207.7 L440.0,212.1 L439.2,213.4 L441.1,214.9 L446.4,218.0 L447.2,217.5 L450.4,217.8 L453.2,218.3 L455.9,219.3 L459.2,219.9 L461.6,221.4 L464.8,223.2 L466.1,221.7 L464.0,216.0 L462.7,212.1 L465.3,210.0 L462.9,207.7 L460.3,206.5 L458.9,204.9 L457.8,204.7 L458.7,201.3 L460.0,199.6 L460.8,199.1 L463.8,196.8 L467.7,196.8 L472.1,198.1 L474.5,199.1 L477.1,198.1 L480.1,198.1 L482.5,199.3 L485.3,198.6 L485.6,196.8 L482.2,195.6 L483.3,193.3 L482.5,191.0 L484.2,190.5 L489.6,189.3 L496.5,187.3 L499.7,188.0 L501.6,190.0 L506.7,190.5 L508.2,191.8 L512.3,190.0 L516.1,192.3 L522.7,197.6 L525.2,198.6 L529.0,198.1 L534.5,201.1 L539.8,202.6 L540.9,201.9 L544.3,200.6 L547.3,198.8 L552.2,200.3 L556.5,200.8 L559.9,199.8 L557.7,196.1 L561.8,196.3 L566.4,197.3 L572.1,200.1 L576.0,199.8 L581.5,202.4 L585.7,202.6 L589.3,201.9 L592.2,200.1 L596.7,200.8 L601.0,201.9 L602.1,199.8 L601.3,196.1 L600.9,192.8 L604.1,191.8 L608.8,192.8 L613.8,195.6 L619.7,200.6 L624.7,202.1 L630.5,206.2 L633.9,205.2 L637.6,204.7 L638.2,207.0 L639.6,212.1 L636.3,213.4 L636.8,216.0 L638.8,218.6 L638.3,219.9 L641.5,223.7 L683.6,226.3 L749.7,226.3 L739.1,213.4 L727.2,200.6 L713.4,188.0 L698.2,175.8 L681.9,164.1 L664.6,152.8 L645.6,142.2 L623.8,132.5 L607.4,126.3 L565.6,126.3 L525.2,126.3 L484.7,126.3 L444.3,126.3 L408.2,146.4Z"/><path d="M401.5,189.5 L407.7,189.5 L407.3,187.8 L404.3,187.3 L402.1,188.0Z"/><path d="M464.7,210.0 L462.9,207.7 L460.3,206.5 L458.9,204.9 L457.8,204.7 L458.7,201.3 L460.0,199.6 L460.8,199.1 L463.8,196.8 L467.7,196.8 L472.1,198.1 L474.5,199.1 L477.1,198.1 L480.1,198.1 L482.5,199.3 L485.3,198.6 L485.6,196.8 L482.2,195.6 L483.3,193.3 L482.5,191.0 L484.2,190.5 L489.6,189.3 L496.5,187.3 L499.7,188.0 L501.6,190.0 L506.7,190.5 L508.2,191.8 L512.3,190.0 L516.1,192.3 L522.7,197.6 L525.2,198.6 L529.0,198.1 L534.5,201.1 L539.8,202.6 L539.6,204.4 L538.9,208.0 L537.6,208.3 L533.3,207.7 L533.7,212.1 L529.4,213.4 L530.6,216.0 L532.8,218.0 L532.5,220.6 L529.4,219.1 L525.0,218.6 L521.0,219.1 L517.6,218.3 L512.8,219.6 L511.6,222.4 L509.5,222.7 L507.7,223.7 L504.8,223.2 L502.3,219.9 L497.3,217.0 L493.2,217.3 L490.4,214.9 L484.4,211.8 L479.6,213.4 L482.1,223.0 L480.0,223.0 L477.2,220.4 L475.0,221.7 L470.5,218.6 L467.5,214.7 L467.9,212.1 L470.3,209.5 L465.3,210.0Z"/><path d="M408.3,204.7 L409.1,201.6 L411.4,198.8 L410.3,196.6 L412.9,195.8 L419.0,196.6 L424.1,197.3 L426.3,195.3 L429.0,194.8 L431.7,196.3 L434.0,198.1 L436.6,199.8 L439.8,200.6 L443.0,201.6 L444.6,204.4 L444.5,206.2 L441.8,207.7 L440.4,208.8 L437.9,210.0 L439.6,212.6 L436.4,215.7 L432.9,215.7 L430.0,212.1 L427.3,210.3 L426.1,211.8 L425.4,212.9 L421.7,212.1 L421.5,210.3 L422.8,209.5 L424.8,207.5 L422.9,206.0 L420.3,204.9 L418.2,204.7 L417.5,205.2 L414.2,206.5 L410.3,206.0 L408.3,204.7Z"/><path d="M370.2,197.3 L372.2,197.1 L375.2,198.1 L375.3,196.1 L376.9,195.8 L377.2,194.3 L377.5,192.3 L375.1,190.5 L369.3,193.1 L370.0,197.1Z"/><path d="M375.6,198.6 L376.3,201.9 L378.6,202.9 L380.0,203.4 L378.9,206.7 L381.0,206.7 L382.8,207.0 L384.8,207.0 L388.3,206.7 L390.0,207.0 L391.0,204.2 L388.6,202.1 L387.9,199.8 L391.9,198.3 L392.9,198.1 L393.2,196.8 L392.2,194.3 L391.2,192.3 L391.3,190.5 L388.6,189.0 L384.8,189.3 L382.6,188.5 L380.2,188.3 L379.4,190.5 L377.5,192.3 L377.2,194.3 L376.9,195.8 L375.3,196.1 L375.2,198.1Z"/><path d="M387.7,199.8 L388.6,202.1 L391.0,204.2 L393.2,204.2 L393.7,203.1 L397.7,204.2 L399.4,203.4 L400.9,201.9 L399.4,200.6 L397.1,200.1 L395.8,198.8 L393.9,198.1 L391.9,198.3 L387.9,199.8Z"/><path d="M397.7,204.2 L398.4,205.7 L401.7,206.2 L405.0,204.4 L409.1,204.7 L408.9,202.9 L405.8,202.1 L402.7,201.6 L400.9,201.9 L399.4,203.4Z"/><path d="M405.2,210.6 L407.0,209.8 L408.4,207.2 L410.0,205.7 L414.2,206.5 L417.5,205.2 L421.2,208.5 L421.7,212.1 L426.0,212.6 L425.8,214.7 L424.0,216.7 L423.2,216.7 L420.1,215.7 L416.7,217.0 L413.6,216.7 L410.8,216.2 L410.0,214.7 L407.9,213.9 L405.2,210.6Z"/><path d="M402.9,213.6 L403.8,214.9 L403.6,217.3 L405.4,218.6 L406.2,220.4 L408.7,220.4 L410.6,219.9 L411.4,218.0 L410.0,214.7 L407.9,213.9 L406.9,212.9 L405.4,210.6 L403.8,210.3 L402.7,212.1Z"/><path d="M405.7,226.9 L407.4,224.3 L408.0,224.0 L411.3,223.5 L414.2,222.2 L418.6,221.9 L419.8,223.0 L418.9,224.5 L418.2,227.6 L420.4,230.8 L421.8,234.2 L417.7,236.8 L412.3,237.3 L409.6,235.5 L407.8,232.1 L407.0,229.5Z"/><path d="M455.7,223.5 L459.3,222.7 L460.3,224.3 L461.2,226.3 L463.0,228.4 L462.6,229.5 L459.8,226.9 L457.2,225.8 L456.2,225.0Z"/><path d="M448.6,243.6 L453.1,241.0 L452.7,235.2 L455.1,233.9 L460.2,233.7 L462.3,237.1 L463.8,239.4 L463.1,242.0 L465.7,244.7 L468.1,246.2 L469.3,249.9 L471.2,252.5 L469.5,252.8 L468.2,254.9 L467.0,254.9 L463.0,254.6 L456.4,249.6 L452.6,247.5 L449.4,246.5 L448.6,243.6Z"/><path d="M457.8,227.9 L459.2,227.1 L463.2,229.2 L466.6,230.3 L469.8,230.3 L473.3,231.6 L477.6,231.6 L480.3,232.1 L482.9,231.6 L486.8,231.3 L491.4,232.9 L494.5,235.2 L496.1,235.2 L496.4,237.8 L496.0,242.0 L497.1,243.3 L496.9,246.0 L498.1,248.6 L499.9,249.1 L500.4,250.4 L498.9,253.0 L500.2,254.4 L503.0,257.0 L505.2,259.9 L504.3,261.4 L502.1,265.1 L502.3,268.3 L490.7,265.6 L489.9,259.1 L482.2,260.4 L474.9,255.1 L471.5,252.8 L469.9,251.2 L469.1,249.9 L468.1,246.2 L465.7,244.7 L463.1,242.0 L463.8,239.4 L462.3,237.1 L460.2,233.7 L458.8,231.6 L457.8,227.9Z"/><path d="M441.3,254.1 L443.6,254.6 L445.5,251.2 L447.7,251.2 L445.2,248.6 L449.4,246.5 L448.6,243.6 L444.5,246.5 L441.8,245.4 L441.9,248.6Z"/><path d="M440.6,244.4 L441.6,244.1 L443.1,241.5 L443.4,240.5 L441.8,239.7 L440.5,241.5 L439.6,243.6Z"/><path d="M418.3,243.3 L427.3,246.5 L434.0,246.8 L439.0,248.3 L441.3,253.8 L440.5,257.8 L446.1,273.5 L434.8,273.5 L420.1,273.5Z"/><path d="M384.5,252.0 L385.5,248.6 L388.7,244.4 L389.7,242.0 L407.2,242.0 L418.3,243.3 L420.1,273.5 L418.0,278.7 L418.0,280.1 L413.4,277.4 L397.3,270.9 L395.1,272.2 L389.4,269.6 L385.9,265.6 L385.8,261.7 L384.7,259.1 L385.2,253.8Z"/><path d="M381.1,233.7 L383.9,232.1 L388.2,232.9 L389.5,236.8 L389.7,242.0 L388.7,244.4 L385.5,248.6 L384.5,252.0 L381.5,246.0 L379.9,243.3 L381.3,240.5 L381.4,236.8Z"/><path d="M350.6,237.1 L351.9,236.9 L353.6,238.4 L358.6,238.6 L359.5,240.7 L359.7,246.0 L355.2,248.3 L351.2,252.5 L344.0,255.9 L343.9,258.6 L333.9,258.6 L332.1,257.8 L338.8,256.5 L340.0,253.8 L341.2,249.9 L341.8,246.0 L343.6,243.3 L347.0,241.5 L348.6,239.4 L349.7,237.1Z"/><path d="M369.6,314.4 L369.6,306.3 L371.7,300.5 L371.7,296.3 L373.0,295.8 L377.2,295.3 L381.3,296.3 L385.2,297.4 L388.7,296.1 L392.1,296.8 L394.6,295.3 L396.0,297.1 L396.8,301.0 L394.5,304.2 L392.9,308.1 L390.9,312.8 L388.3,312.8 L386.0,314.9 L383.8,319.4 L379.6,320.7 L375.0,318.1 L373.8,315.5 L369.6,315.5Z"/><path d="M439.6,310.2 L441.7,303.7 L444.6,298.4 L447.2,293.7 L450.3,292.1 L451.7,293.4 L455.6,293.4 L458.7,296.6 L460.9,298.4 L459.6,301.8 L462.5,303.7 L466.1,307.6 L473.7,310.2 L467.2,318.3 L460.1,320.7 L458.3,321.0 L454.8,322.0 L451.3,321.8 L447.1,319.4 L444.3,318.1 L443.6,313.9Z"/><path d="M442.0,319.1 L445.5,317.0 L447.1,319.4 L451.3,321.8 L454.8,322.0 L458.3,321.0 L460.3,320.7 L458.3,323.9 L458.3,335.7 L460.6,336.4 L458.3,340.4 L454.1,343.5 L450.6,340.4 L442.1,333.8 L442.1,328.6 L444.4,326.0Z"/><path d="M421.2,377.9 L425.0,378.1 L429.8,372.6 L433.0,372.1 L435.5,373.7 L438.6,375.0 L438.4,379.7 L437.5,385.0 L434.3,389.9 L430.0,389.4 L426.9,387.8 L426.4,385.0 L423.0,382.3Z"/><path d="M511.7,227.6 L514.6,227.4 L520.9,227.9 L522.6,225.0 L526.1,225.3 L529.2,222.7 L532.5,220.6 L530.7,219.9 L527.2,218.8 L523.0,218.8 L518.6,218.0 L517.9,219.9 L513.1,219.3 L512.8,220.4 L515.2,222.4 L518.0,224.0 L516.3,225.8 L513.5,225.0 L511.7,226.1Z"/><path d="M510.0,233.7 L511.5,233.7 L514.2,231.8 L517.0,231.8 L518.3,234.2 L521.0,232.9 L525.3,233.7 L523.5,230.3 L520.9,227.9 L514.6,227.4 L511.7,227.6 L511.7,226.1 L513.5,225.0 L516.3,225.8 L513.5,223.7 L510.7,224.3 L510.2,227.6 L508.0,228.4 L509.7,230.0Z"/><path d="M502.1,265.1 L504.3,261.4 L505.2,259.9 L503.0,257.0 L500.2,254.4 L498.9,253.0 L502.6,254.1 L505.9,253.8 L510.8,252.8 L511.1,249.4 L513.7,248.3 L516.4,247.5 L517.1,243.3 L515.7,242.0 L518.7,240.7 L518.2,236.8 L520.4,234.7 L524.6,234.2 L527.0,235.0 L528.7,237.3 L532.2,238.1 L530.7,240.5 L528.5,240.7 L526.0,244.1 L527.5,246.0 L529.4,246.5 L528.4,249.9 L527.8,251.7 L526.6,253.8 L524.3,257.8 L521.3,258.3 L519.2,260.4 L522.0,263.8 L523.6,267.2 L520.3,267.7 L518.6,268.8 L517.7,270.9 L512.4,268.3 L502.3,266.9Z"/><path d="M563.1,273.5 L563.6,267.7 L562.1,266.7 L562.7,265.1 L561.5,263.5 L565.2,263.0 L565.8,264.8 L570.9,265.4 L571.7,267.7 L570.8,270.9 L572.8,274.8 L572.9,277.2 L568.9,276.1 L563.2,276.1Z"/><path d="M572.7,275.6 L573.5,273.5 L574.1,268.8 L576.3,268.3 L576.7,264.3 L577.0,261.4 L578.9,259.6 L580.8,257.2 L583.8,258.8 L585.3,263.3 L583.8,268.5 L586.6,268.0 L588.8,273.2 L592.7,274.6 L591.2,277.7 L588.4,279.3 L586.4,282.7 L588.5,286.6 L589.1,290.5 L591.2,295.3 L591.3,299.2 L590.6,303.7 L590.1,306.3 L584.2,299.7 L583.2,289.2 L576.0,286.6 L572.7,278.7Z"/><path d="M586.4,282.7 L588.4,279.3 L591.2,277.7 L592.2,278.5 L593.8,280.1 L594.1,285.3 L597.3,284.0 L600.4,283.2 L602.6,285.6 L603.5,289.0 L605.3,290.5 L605.5,293.4 L600.9,293.4 L598.8,295.5 L598.6,298.7 L595.7,299.7 L593.4,299.7 L595.4,310.2 L597.4,313.1 L598.7,316.0 L596.8,314.7 L594.7,314.2 L592.7,311.5 L590.3,310.2 L590.5,305.2 L591.3,299.2 L591.2,295.3 L589.1,290.5 L588.5,286.6Z"/><path d="M594.8,272.5 L597.6,271.7 L601.5,270.1 L604.8,271.4 L608.1,274.6 L610.9,276.1 L615.6,291.9 L616.7,302.4 L610.2,307.6 L603.5,310.2 L604.2,303.9 L605.2,302.6 L608.0,302.4 L610.6,298.9 L610.2,293.2 L609.7,290.5 L607.0,287.7 L603.3,282.7 L600.2,280.6 L600.5,278.0 L598.0,276.6Z"/><path d="M594.7,314.2 L596.8,314.7 L598.7,316.0 L599.6,314.9 L603.9,318.1 L606.5,327.3 L604.6,328.1 L603.0,328.6 L597.2,326.0 L594.7,320.7 L594.1,315.5Z"/><path d="M520.6,227.6 L522.0,225.0 L526.1,225.3 L529.2,222.7 L532.5,220.6 L532.8,218.0 L530.6,216.0 L529.4,213.4 L533.7,212.1 L533.3,207.7 L537.6,208.3 L538.9,208.0 L539.6,204.4 L539.8,202.6 L541.9,204.2 L546.9,206.2 L550.4,209.3 L550.6,212.1 L556.4,213.4 L561.4,215.2 L566.3,219.3 L573.8,219.6 L585.5,222.2 L588.6,219.9 L594.8,219.6 L597.4,216.7 L595.0,213.6 L599.2,213.9 L603.1,211.6 L604.8,209.3 L609.2,208.8 L604.7,205.7 L601.0,201.9 L602.1,199.8 L601.3,196.1 L600.9,192.8 L604.1,191.8 L608.8,192.8 L613.8,195.6 L619.7,200.6 L624.7,202.1 L630.5,206.2 L633.9,205.2 L637.6,204.7 L638.2,207.0 L639.6,212.1 L636.3,213.4 L636.8,216.0 L638.8,218.6 L638.3,219.9 L636.2,220.1 L633.6,221.2 L631.2,222.4 L629.6,225.3 L628.6,226.6 L627.1,229.0 L641.3,252.5 L640.9,278.7 L609.8,276.1 L608.1,274.6 L604.8,271.4 L601.5,270.1 L597.6,271.7 L594.8,272.5 L593.7,272.2 L592.7,274.6 L588.8,273.2 L586.6,268.0 L583.8,268.5 L585.3,263.3 L583.8,258.8 L580.8,257.2 L577.9,255.1 L574.0,254.6 L570.3,258.3 L568.0,258.0 L564.0,257.0 L562.3,259.6 L560.4,258.0 L555.6,257.8 L550.8,255.7 L545.6,252.3 L543.4,252.0 L539.6,250.4 L537.7,248.6 L536.3,245.7 L538.6,246.0 L536.3,241.2 L533.3,238.1 L528.7,237.3 L527.0,235.0 L524.6,234.2 L525.3,232.9 L524.4,230.3Z"/><path d="M540.8,202.6 L544.3,200.6 L547.3,198.8 L552.2,200.3 L556.5,200.8 L559.9,199.8 L557.7,196.1 L561.8,196.3 L566.4,197.3 L572.1,200.1 L576.0,199.8 L581.5,202.4 L585.7,202.6 L589.3,201.9 L592.2,200.1 L596.7,200.8 L601.0,201.9 L604.7,205.7 L609.2,208.8 L604.8,209.3 L603.1,211.6 L599.2,213.9 L595.0,213.6 L597.4,216.7 L594.8,219.6 L588.6,219.9 L585.5,222.2 L573.8,219.6 L566.3,219.3 L561.4,215.2 L556.4,213.4 L550.6,212.1 L550.4,209.3 L546.9,206.2 L541.9,204.2Z"/><path d="M635.4,232.4 L636.4,231.8 L637.7,230.8 L639.2,230.0 L644.7,234.2 L648.3,242.0 L640.0,243.3 L636.8,238.1 L635.4,232.4Z"/></clipPath>
<g clip-path="url(#cclip)"><path d="M351.2,236.8 L349.7,235.5 L348.3,233.7 L344.1,234.2 L344.4,231.6 L343.0,229.7 L344.2,227.4 L345.0,223.2 L344.7,219.9 L343.9,218.6 L345.8,217.5 L347.3,216.5 L351.5,217.0 L355.4,217.3 L359.6,217.5 L360.3,217.3 L360.9,214.4 L360.9,210.3 L358.9,207.7 L354.4,206.0 L353.9,204.7 L357.3,203.6 L359.3,203.9 L360.2,201.3 L363.6,201.9 L365.6,200.8 L367.2,198.1 L369.2,197.6 L370.6,196.8 L371.5,195.6 L372.8,193.3 L376.1,192.0 L377.5,192.3 L379.2,191.5 L380.4,190.8 L380.0,188.0 L379.0,186.6 L379.0,183.6 L381.4,182.7 L383.4,181.4 L385.7,181.4 L384.4,179.7 L383.2,178.3 L382.8,176.1 L381.7,178.3 L378.5,180.5 L376.6,180.7 L373.9,178.5 L372.6,174.9 L372.5,171.6 L374.6,169.9 L376.9,168.8 L379.4,166.9 L382.8,164.5 L385.2,161.8 L388.1,158.9 L386.4,157.3 L390.4,155.5 L395.0,153.5 L398.3,152.6 L402.2,151.3 L405.7,150.3 L409.4,150.7 L413.1,152.2 L415.1,153.2 L418.7,154.1 L423.9,154.8 L429.5,156.4 L433.6,158.4 L434.4,159.8 L438.9,159.8 L439.1,158.4 L440.6,156.6 L443.6,157.8 L448.2,156.6 L453.0,156.0 L455.9,156.6 L459.8,156.0 L462.9,155.5 L463.8,153.9 L465.2,153.2 L470.9,154.6 L476.7,156.0 L479.8,156.9 L479.7,155.3 L475.5,153.9 L474.9,151.5 L472.9,150.3 L474.2,146.9 L479.4,147.5 L482.5,150.7 L484.9,152.8 L487.8,156.2 L489.5,156.2 L488.1,153.9 L483.4,149.6 L485.1,147.5 L491.1,147.9 L491.4,145.4 L499.3,144.3 L499.0,142.2 L502.6,141.2 L509.2,140.3 L515.7,139.3 L518.8,137.0 L525.6,138.7 L534.0,139.3 L539.8,141.2 L540.4,144.3 L542.9,145.2 L550.9,145.2 L560.6,145.4 L565.4,145.4 L571.3,147.5 L578.9,149.6 L585.2,149.4 L589.0,147.5 L597.7,147.9 L608.3,149.6 L614.8,150.7 L625.3,151.1 L632.9,153.9 L642.3,153.5 L646.3,152.8 L657.0,153.2 L666.4,155.1 L680.1,164.1 L679.1,165.2 L682.8,169.9 L678.7,172.3 L677.2,175.4 L670.4,175.8 L667.2,177.1 L670.4,180.7 L674.9,185.6 L675.3,190.5 L676.0,194.3 L676.0,198.1 L671.0,194.3 L664.1,188.0 L659.6,183.2 L659.1,180.7 L656.0,174.7 L655.9,172.3 L650.5,171.6 L649.1,173.5 L650.0,177.5 L644.7,177.8 L640.2,177.1 L633.1,177.3 L629.4,178.3 L628.5,181.2 L626.8,184.4 L629.4,189.3 L639.0,192.6 L643.3,195.6 L645.8,200.6 L648.1,205.2 L647.6,208.8 L646.4,212.9 L646.0,217.3 L642.9,219.1 L639.7,219.1 L638.8,220.4 L638.7,223.7 L637.2,226.3 L636.2,227.6 L639.0,230.0 L643.4,234.2 L645.3,238.1 L644.2,239.4 L642.2,240.5 L639.9,240.7 L638.5,238.1 L637.9,235.5 L636.4,232.6 L634.1,232.4 L632.7,230.8 L629.9,227.1 L627.2,226.9 L624.6,228.2 L623.5,229.5 L623.5,227.6 L623.7,225.3 L620.4,224.0 L618.6,226.6 L616.2,228.4 L616.0,230.0 L619.4,231.8 L621.4,233.9 L623.6,232.1 L628.0,233.1 L628.6,234.4 L625.5,235.7 L623.9,238.9 L626.7,241.2 L629.7,245.7 L632.8,248.1 L633.5,250.2 L633.2,251.7 L635.2,253.0 L634.6,257.2 L633.6,259.9 L632.2,263.0 L631.4,265.1 L629.8,266.9 L626.9,270.9 L622.1,272.7 L620.5,273.0 L617.3,274.0 L614.2,275.6 L613.9,278.0 L612.2,274.8 L609.5,274.6 L607.3,275.3 L605.7,277.4 L604.6,279.3 L604.4,282.4 L606.6,285.3 L608.8,287.9 L611.5,290.5 L613.2,293.2 L614.6,297.1 L614.7,300.8 L613.7,302.4 L611.1,303.9 L609.3,304.2 L608.8,306.3 L606.1,308.4 L605.1,307.1 L605.5,305.0 L604.2,303.9 L601.8,303.4 L600.5,301.0 L600.1,299.5 L598.6,298.7 L595.6,297.9 L595.1,295.8 L593.3,296.1 L593.1,298.4 L592.6,302.6 L592.1,305.0 L593.8,307.1 L594.9,309.4 L595.7,312.3 L597.4,313.1 L599.6,314.9 L601.8,317.3 L602.6,320.2 L602.7,322.5 L603.6,324.9 L604.6,327.5 L603.0,327.8 L600.9,326.2 L597.8,323.9 L596.4,321.0 L595.6,317.8 L595.1,314.2 L593.7,313.1 L592.2,310.5 L590.3,309.4 L590.1,306.3 L590.6,303.7 L590.3,300.3 L588.7,295.8 L587.2,290.3 L585.6,286.9 L583.9,287.9 L581.9,289.8 L579.3,289.2 L579.4,285.3 L578.4,282.4 L576.3,280.3 L573.8,277.2 L572.6,275.3 L571.3,272.5 L569.4,271.9 L568.3,273.5 L565.2,274.3 L563.4,274.6 L560.8,275.3 L560.1,278.0 L557.2,280.3 L555.2,283.2 L551.5,286.6 L549.3,289.5 L547.3,291.9 L547.8,296.1 L547.2,299.7 L547.3,304.2 L545.4,306.5 L543.8,307.9 L542.3,310.0 L540.1,307.9 L538.8,304.2 L536.9,300.3 L535.0,295.8 L533.3,291.9 L530.9,285.8 L529.2,280.8 L529.1,277.4 L528.1,275.1 L526.8,275.6 L523.5,276.6 L520.1,272.7 L522.3,271.9 L521.5,270.9 L518.8,270.6 L517.5,269.0 L514.9,266.2 L513.3,264.6 L508.7,265.1 L503.8,265.4 L502.0,265.4 L497.3,264.6 L493.9,264.1 L491.7,260.9 L489.8,260.1 L487.9,261.4 L484.5,261.2 L480.9,259.3 L478.1,258.0 L476.0,255.1 L473.5,252.5 L471.3,252.8 L470.1,252.5 L469.8,254.1 L471.4,256.5 L472.6,258.6 L474.4,260.4 L476.1,262.2 L477.0,264.3 L478.4,262.8 L479.6,264.8 L479.6,266.9 L480.8,268.3 L483.0,267.7 L486.4,267.5 L488.3,264.3 L489.5,263.0 L490.1,262.2 L490.3,265.9 L491.6,268.3 L494.2,269.0 L496.3,269.6 L498.8,272.2 L498.4,275.1 L496.4,277.7 L495.1,281.4 L492.9,282.4 L490.1,284.5 L489.1,286.6 L484.6,287.7 L482.9,289.2 L478.0,291.6 L474.7,294.5 L471.3,295.8 L467.9,296.8 L465.7,297.9 L463.4,297.9 L462.9,296.3 L461.6,293.2 L460.8,290.3 L458.2,285.3 L455.6,280.1 L452.3,274.8 L450.4,269.6 L447.1,264.3 L444.1,260.9 L442.1,257.5 L441.1,253.8 L440.4,256.5 L439.9,258.3 L438.2,257.0 L435.9,252.8 L435.8,253.8 L437.0,256.2 L439.1,259.6 L442.3,265.6 L443.9,269.6 L446.8,273.5 L448.1,276.1 L448.6,281.4 L451.3,285.3 L453.4,289.8 L456.3,292.4 L459.2,296.1 L462.5,299.5 L463.0,300.8 L465.9,303.9 L469.4,303.1 L473.9,301.8 L478.5,301.0 L481.4,300.3 L481.1,303.7 L480.5,306.3 L477.7,311.5 L475.5,316.8 L472.1,321.2 L468.7,326.0 L465.3,328.6 L461.8,332.5 L459.5,335.9 L456.4,338.5 L454.8,343.0 L453.5,346.9 L454.6,350.9 L454.1,353.5 L454.9,357.4 L456.7,358.7 L456.5,364.0 L456.5,369.2 L456.2,371.3 L453.0,375.3 L449.0,377.9 L446.6,380.5 L443.0,383.7 L443.5,387.6 L443.8,390.2 L443.5,394.1 L437.7,398.1 L437.2,400.7 L436.3,404.6 L434.7,407.3 L432.3,409.9 L429.8,413.3 L426.2,416.4 L422.7,419.1 L419.7,420.1 L416.0,420.6 L411.6,420.4 L407.1,422.5 L403.9,421.2 L403.6,417.7 L403.0,413.8 L400.2,406.2 L397.5,402.0 L396.2,391.5 L396.0,389.7 L393.4,383.7 L390.4,376.6 L390.4,373.2 L391.6,367.9 L394.9,362.7 L394.3,358.7 L393.9,354.3 L392.3,348.2 L391.6,346.4 L390.7,343.0 L388.8,341.2 L385.4,336.4 L384.9,332.5 L385.4,328.6 L386.1,324.6 L385.6,320.7 L383.8,319.4 L382.6,318.9 L379.6,319.7 L377.3,319.9 L375.0,316.8 L373.8,314.7 L370.3,314.4 L366.9,315.2 L363.4,316.5 L358.8,318.6 L356.5,317.8 L353.0,317.6 L349.5,318.9 L346.1,319.7 L342.6,318.1 L339.1,314.9 L336.8,312.8 L334.5,311.3 L332.7,308.9 L332.7,306.8 L330.0,304.4 L328.4,302.4 L326.1,300.3 L324.8,298.4 L324.8,295.8 L323.9,293.2 L323.3,292.6 L324.9,290.5 L325.7,287.9 L326.4,284.0 L325.8,280.1 L324.8,276.1 L326.0,272.2 L327.3,268.8 L329.6,266.9 L330.8,263.0 L333.6,259.1 L336.6,257.8 L340.0,255.1 L341.6,253.8 L342.1,251.2 L342.9,246.0 L344.7,243.9 L348.0,242.6 L349.2,240.7 L350.3,237.6 L351.7,237.1Z" fill="none" class="b"/></g>
<path d="M351.4,236.7 L353.6,235.0 L356.9,234.8 L359.1,234.7 L360.2,233.1 L361.7,232.6 L363.4,230.0 L362.8,228.4 L363.4,226.3 L365.3,223.7 L368.1,222.7 L370.2,221.4 L369.9,218.6 L371.8,217.3 L374.7,217.8 L377.0,218.3 L379.1,216.5 L381.9,214.9 L383.8,215.7 L385.0,217.3 L385.5,218.8 L388.3,220.9 L389.2,221.9 L392.2,223.2 L393.8,224.3 L394.9,224.8 L396.5,226.3 L397.7,229.0 L397.0,231.3 L398.1,231.8 L399.1,230.5 L400.0,228.7 L400.0,225.0 L401.8,226.3 L402.7,226.9 L402.9,226.1 L401.7,224.8 L399.3,223.5 L397.6,221.4 L393.3,219.9 L391.6,217.0 L389.7,215.7 L388.9,212.3 L391.9,211.8 L391.6,213.1 L393.0,212.9 L395.1,215.2 L397.7,217.3 L400.3,218.6 L402.3,219.9 L404.4,221.4 L404.7,225.0 L406.1,227.1 L407.8,229.5 L408.8,230.8 L410.4,234.7 L412.2,235.7 L413.4,234.7 L412.6,232.6 L414.0,231.6 L415.0,231.0 L412.2,228.4 L411.6,225.6 L413.9,225.8 L415.2,224.0 L418.7,224.3 L419.5,226.3 L420.1,225.6 L422.0,225.3 L425.0,223.9 L424.7,225.0 L421.5,225.3 L419.4,227.6 L421.0,230.8 L420.0,231.0 L422.1,232.9 L423.0,234.7 L424.7,235.0 L427.5,236.3 L429.5,234.7 L431.6,234.7 L434.0,236.5 L437.2,236.0 L440.4,235.2 L441.9,235.2 L441.3,237.3 L441.7,238.6 L441.1,241.2 L440.4,244.7 L439.7,248.3 L439.1,249.1 L436.5,249.6 L434.7,249.4 L431.9,248.3 L429.8,249.1 L427.7,250.2 L425.4,249.9 L419.1,248.3 L415.3,247.0 L412.9,245.2 L409.6,245.2 L407.7,246.8 L407.7,249.9 L405.8,251.7 L403.7,250.4 L398.8,249.1 L396.9,246.5 L393.1,245.2 L389.8,244.9 L387.8,244.1 L385.8,242.6 L387.0,240.7 L387.6,238.9 L386.2,236.5 L387.2,234.2 L385.5,233.7 L383.9,233.4 L381.8,234.4 L377.5,233.9 L374.2,235.0 L371.0,234.7 L366.7,235.2 L363.4,237.1 L360.6,238.6 L358.6,239.1 L356.9,238.6 L353.6,238.9 L351.9,237.1Z" fill="#ffffff" class="s"/>
<path d="M424.9,223.5 L422.5,221.4 L422.1,219.9 L421.5,218.6 L423.2,216.7 L423.2,215.4 L424.9,213.9 L424.9,212.6 L426.6,209.8 L428.1,209.3 L429.9,210.3 L432.5,210.8 L430.7,212.3 L433.1,214.7 L435.2,214.7 L437.1,213.4 L439.0,212.6 L436.9,212.1 L435.5,210.3 L438.3,208.8 L442.2,207.7 L443.6,207.7 L442.0,210.0 L441.9,211.3 L441.1,212.6 L440.2,213.4 L441.4,214.2 L443.6,215.2 L446.5,217.3 L448.4,218.6 L451.1,220.6 L451.2,222.4 L448.3,223.7 L445.2,224.0 L441.9,223.2 L439.5,221.9 L437.3,221.2 L435.2,221.2 L433.1,221.2 L431.1,221.9 L429.1,223.2 L425.5,223.2Z" fill="#ffffff" class="s"/>
<path d="M461.6,211.8 L464.1,209.5 L468.9,208.3 L472.0,208.3 L473.5,212.1 L470.3,213.4 L469.6,214.7 L468.8,216.0 L471.4,218.0 L474.2,221.2 L475.6,222.4 L475.6,224.3 L477.6,226.3 L476.9,228.2 L479.5,230.3 L479.9,233.4 L476.1,235.0 L472.7,234.2 L469.1,232.6 L468.5,230.3 L468.7,227.6 L468.9,225.6 L470.5,225.3 L468.5,223.7 L465.9,221.7 L463.9,219.3 L462.8,217.3 L461.9,214.7 L460.7,214.2 L461.3,212.1Z" fill="#ffffff" class="s"/>
<path d="M383.8,181.9 L385.9,181.7 L387.3,184.4 L388.2,186.6 L390.8,187.1 L391.0,185.6 L394.0,185.1 L394.8,183.2 L394.9,181.2 L395.1,179.2 L397.0,178.3 L398.3,177.1 L397.0,175.1 L395.2,174.2 L394.7,171.8 L395.5,169.9 L397.4,168.1 L399.9,166.9 L401.5,165.5 L400.9,164.1 L402.3,162.3 L405.3,162.3 L407.7,163.2 L408.0,164.3 L406.6,164.5 L404.4,166.9 L401.9,168.3 L401.8,169.9 L402.6,172.3 L402.7,173.9 L404.3,175.1 L405.9,175.8 L408.6,175.4 L411.3,174.9 L414.0,174.7 L416.9,175.4 L419.5,176.1 L416.8,176.6 L415.4,177.1 L412.6,177.1 L409.0,177.3 L407.2,177.8 L407.2,179.2 L409.0,180.0 L409.5,181.7 L409.2,183.2 L407.5,183.2 L405.9,181.4 L404.1,182.4 L403.6,183.6 L403.7,185.6 L404.3,187.5 L403.1,188.3 L401.7,189.5 L399.5,189.5 L399.0,188.5 L396.4,188.8 L394.5,190.0 L391.7,190.8 L389.7,190.0 L387.7,189.5 L385.8,190.3 L384.5,190.5 L384.6,189.3 L382.8,189.3 L383.7,188.0 L383.0,186.8 L383.7,185.4 L383.0,184.1 L383.3,182.7Z" fill="#ffffff" class="s"/>
<path d="M423.5,160.2 L419.1,159.3 L422.0,161.1 L424.3,162.9 L424.4,165.2 L427.4,166.4 L430.2,166.9 L430.7,165.5 L433.7,165.0 L435.0,165.2 L435.5,163.8 L433.2,162.3 L436.1,160.7 L438.9,161.1 L439.8,161.4 L438.9,159.8 L435.0,160.0 L433.3,161.1 L430.4,161.8 L427.2,161.1 L424.9,160.9Z" fill="#ffffff" class="s"/>
<path d="M351.9,200.6 L355.0,199.6 L357.4,198.8 L361.4,198.6 L366.2,197.6 L366.7,194.1 L364.0,192.0 L363.0,190.5 L361.1,189.0 L360.3,186.6 L358.6,185.6 L360.0,181.9 L357.2,181.4 L355.9,179.2 L354.0,179.2 L352.6,181.7 L352.7,184.9 L351.6,184.6 L352.8,187.3 L353.9,188.5 L356.8,188.3 L357.2,190.3 L357.5,192.0 L354.6,192.0 L355.1,193.3 L355.3,194.8 L353.1,196.1 L354.9,196.6 L357.4,197.1 L355.0,197.6Z" fill="#ffffd4" class="b"/>
<path d="M352.9,189.5 L351.8,187.5 L349.3,187.5 L347.9,189.0 L349.2,190.3 L351.3,190.5Z" fill="#ffffd4" class="b"/>
<path d="M351.6,193.1 L351.1,195.1 L349.6,195.3 L346.5,196.6 L343.9,196.8 L343.0,195.3 L344.7,194.1 L344.0,191.8 L344.3,190.0 L347.1,189.3 L347.4,187.8 L349.3,187.5 L347.9,189.0 L349.2,190.3 L351.3,190.5Z" fill="url(#hatch)" class="bn"/>
<path d="M379.6,135.4 L383.6,132.9 L389.2,132.2 L394.9,132.1 L402.3,132.5 L399.9,134.1 L394.3,135.2 L390.6,138.3 L387.7,139.1 L384.4,137.4 L381.2,136.4Z" fill="url(#hatch)" class="bn"/>
<path d="M427.0,131.6 L430.0,130.8 L433.0,131.0 L435.5,131.3 L434.0,132.4 L430.5,132.3Z" fill="#fed98e" class="b"/>
<path d="M449.2,151.3 L452.2,150.9 L452.6,148.6 L451.9,145.8 L452.9,143.3 L454.3,140.7 L458.0,139.5 L463.3,138.5 L467.7,138.3 L467.3,139.7 L462.4,141.2 L458.8,142.6 L455.9,145.8 L455.3,147.5 L455.2,150.3 L453.4,151.5Z" fill="#fed98e" class="b"/>
<path d="M495.4,133.5 L498.8,131.6 L507.3,132.5 L514.8,133.9 L514.1,135.6 L509.7,135.6 L502.4,134.5Z" fill="#fed98e" class="b"/>
<path d="M518.0,135.2 L521.5,135.6 L520.8,136.2 L518.3,136.0Z" fill="#fed98e" class="b"/>
<path d="M575.4,142.2 L576.8,140.3 L583.9,140.8 L593.1,141.6 L591.0,143.3 L584.0,143.9 L578.4,143.3Z" fill="#fed98e" class="b"/>
<path d="M656.0,150.3 L657.3,149.6 L659.6,150.9 L657.9,150.9Z" fill="#fed98e" class="b"/>
<path d="M656.3,210.8 L658.1,209.0 L651.8,201.9 L655.7,203.1 L646.5,195.6 L643.8,191.8 L640.5,189.8 L642.3,193.1 L646.3,198.1 L650.7,203.1 L654.0,208.3Z" fill="#fed98e" class="b"/>
<path d="M46.7,164.1 L51.9,162.9 L54.9,164.5 L58.0,165.5 L60.7,162.9 L65.8,161.8 L68.0,161.8 L69.0,159.6 L64.8,157.8 L63.1,155.5 L60.4,155.1Z" fill="#fed98e" class="b"/>
<path d="M659.7,222.4 L661.8,221.7 L660.4,220.1 L665.7,221.2 L668.3,217.8 L666.1,215.4 L658.4,212.3 L656.9,212.9 L659.5,217.8 L657.8,218.0 L657.9,219.9Z" fill="#ffffd4" class="b"/>
<path d="M650.2,242.0 L653.2,242.3 L655.6,241.2 L659.0,240.5 L661.5,243.3 L663.1,241.2 L666.9,240.5 L669.1,239.4 L669.6,236.8 L667.6,232.9 L667.8,230.8 L667.2,227.6 L662.9,222.7 L660.9,223.2 L662.0,226.3 L663.6,229.0 L663.9,231.6 L662.6,232.9 L660.1,234.7 L658.8,233.4 L659.5,237.8 L653.1,238.1 L650.6,240.7Z" fill="#ffffd4" class="b"/>
<path d="M648.7,244.1 L650.3,242.3 L653.0,243.9 L654.0,248.6 L652.6,249.6 L651.4,248.9 L650.2,245.7 L648.4,244.7Z" fill="#ffffd4" class="b"/>
<path d="M654.5,243.9 L654.8,242.0 L658.4,241.5 L658.6,243.1 L656.2,244.4 L655.0,245.2Z" fill="#ffffd4" class="b"/>
<path d="M635.5,271.9 L637.4,273.5 L638.1,265.9 L637.0,264.8 L635.7,266.9 L634.8,269.6Z" fill="#ffffd4" class="b"/>
<path d="M610.8,280.8 L613.2,283.5 L615.3,282.2 L616.0,279.5 L614.3,278.5 L612.0,278.7 L610.8,279.5Z" fill="#ffffd4" class="b"/>
<path d="M548.0,312.8 L547.5,308.9 L548.3,305.5 L550.8,308.9 L552.5,312.1 L552.0,314.4 L549.7,315.7 L548.2,314.2Z" fill="url(#hatch)" class="bn"/>
<path d="M638.4,282.7 L642.0,282.7 L643.4,286.6 L641.9,289.8 L644.5,294.0 L648.1,294.7 L648.7,297.9 L646.7,297.1 L644.6,295.0 L642.3,295.0 L640.2,294.0 L640.6,291.6 L638.7,288.7Z" fill="#993404" class="b"/>
<path d="M640.1,295.8 L642.5,296.6 L642.1,298.9 L640.1,297.4Z" fill="#993404" class="b"/>
<path d="M644.1,300.3 L647.0,301.0 L649.1,298.2 L652.1,299.5 L651.9,303.7 L650.4,305.0 L648.3,307.1 L645.9,306.3 L644.3,303.7Z" fill="#993404" class="b"/>
<path d="M645.2,312.8 L648.5,310.7 L649.1,308.6 L651.8,307.6 L652.8,305.5 L655.6,310.2 L655.0,314.2 L653.5,316.5 L650.7,314.9 L649.3,312.3 L645.4,313.1Z" fill="#993404" class="b"/>
<path d="M633.9,309.2 L636.0,307.1 L638.7,303.7 L639.1,302.4 L637.6,303.7 L634.5,308.6Z" fill="#993404" class="b"/>
<path d="M583.7,316.5 L588.9,317.6 L591.7,321.2 L595.8,325.4 L597.9,326.5 L603.6,331.2 L605.5,335.7 L608.7,339.3 L608.0,346.4 L604.9,346.7 L601.6,343.0 L599.9,340.6 L597.2,337.0 L595.4,332.8 L592.6,328.6 L590.9,325.7 L588.3,322.8 L585.5,319.4Z" fill="#fed98e" class="b"/>
<path d="M606.4,349.0 L608.9,346.7 L613.0,347.7 L618.7,349.0 L623.5,349.3 L627.8,351.1 L627.4,354.0 L621.9,353.0 L617.3,352.4 L612.7,351.4 L609.1,350.3 L607.1,349.3Z" fill="#fed98e" class="b"/>
<path d="M615.7,327.3 L617.1,326.0 L620.4,326.7 L621.4,324.1 L624.9,322.8 L627.1,319.1 L630.3,317.6 L632.5,313.1 L634.4,313.9 L637.4,316.8 L639.0,317.6 L636.4,319.9 L635.7,322.8 L636.5,325.4 L638.7,328.6 L636.2,329.1 L635.5,332.5 L633.3,335.1 L632.3,339.6 L628.3,340.4 L624.9,339.3 L621.6,339.1 L618.4,338.8 L618.1,335.1 L616.3,332.5Z" fill="#fed98e" class="b"/>
<path d="M617.1,326.0 L620.4,326.7 L621.4,324.1 L624.9,322.8 L627.1,319.1 L630.3,317.6 L632.5,313.1 L634.4,313.9 L637.4,316.8 L639.0,317.6 L636.4,319.9 L635.2,320.2 L631.3,320.2 L630.4,323.3 L628.4,326.0 L626.2,327.8 L622.7,327.5 L620.4,328.6 L617.1,327.3Z" fill="#993404" class="b"/>
<path d="M639.5,345.6 L641.8,345.6 L642.0,339.1 L643.7,338.0 L646.7,343.5 L648.4,343.0 L645.7,339.1 L644.6,336.2 L648.9,333.8 L647.1,332.5 L643.6,332.5 L641.5,330.4 L643.6,328.6 L648.2,328.8 L651.6,327.5 L653.2,327.0 L651.7,330.2 L648.2,330.2 L642.4,329.9 L641.3,332.8 L640.2,331.2 L638.8,336.4 L638.3,339.1Z" fill="#fed98e" class="b"/>
<path d="M627.7,352.7 L631.1,353.0 L638.0,353.2 L641.5,353.0 L647.3,353.0 L646.7,354.3 L640.3,354.3 L633.3,354.8 L629.9,354.3Z" fill="#fed98e" class="b"/>
<path d="M649.3,357.4 L652.3,353.8 L656.5,353.0 L652.9,355.6 L649.2,358.2Z" fill="#fed98e" class="b"/>
<path d="M666.7,334.6 L670.2,332.2 L673.7,333.6 L674.7,337.8 L676.9,339.9 L681.7,335.1 L685.1,337.0 L689.7,338.0 L688.6,355.1 L685.4,352.7 L681.9,353.2 L681.6,350.3 L684.0,349.0 L681.4,344.6 L676.1,342.7 L672.2,341.4 L670.6,342.0 L668.9,338.5 L672.4,337.2 L669.4,336.7 L667.1,335.1Z" fill="#fed98e" class="b"/>
<path d="M689.7,338.0 L694.3,339.9 L698.8,342.5 L700.9,345.9 L704.3,346.9 L705.0,352.2 L708.2,356.1 L710.9,358.2 L707.9,358.7 L703.4,357.7 L700.3,353.0 L696.6,351.1 L694.6,352.7 L692.1,355.6 L688.6,355.1Z" fill="url(#hatch)" class="bn"/>
<path d="M706.7,345.6 L710.2,345.1 L713.9,342.2 L715.9,343.0 L713.6,345.9 L710.0,347.5 L706.7,346.4Z" fill="url(#hatch)" class="bn"/>
<path d="M659.6,339.6 L666.0,340.4 L665.3,341.4 L659.5,340.6Z" fill="#fed98e" class="b"/>
<path d="M658.6,327.3 L660.9,327.3 L659.8,331.2 L661.6,333.3 L659.1,332.5Z" fill="#fed98e" class="b"/>
<path d="M736.3,384.2 L738.3,385.2 L741.7,389.4 L740.4,389.9 L736.7,385.5Z" fill="url(#hatch)" class="bn"/>
<path d="M768.3,377.1 L771.1,376.8 L770.8,378.9 L767.9,378.9Z" fill="url(#hatch)" class="bn"/>
<path d="M731.6,352.2 L734.5,353.5 L734.3,354.8 L731.4,353.8Z" fill="url(#hatch)" class="bn"/>
<path d="M745.2,370.5 L746.9,371.1 L746.4,373.2 L744.9,372.6Z" fill="url(#hatch)" class="bn"/>
<path d="M476.8,362.7 L478.6,369.2 L479.1,371.9 L477.0,375.8 L475.0,382.3 L472.1,390.2 L469.6,396.5 L465.1,398.3 L462.6,396.8 L461.5,388.9 L462.8,386.3 L464.5,382.3 L463.9,377.1 L465.0,373.7 L469.4,372.6 L473.1,369.2 L475.6,364.8Z" fill="url(#hatch)" class="bn"/>
<path d="M390.1,231.6 L392.2,231.0 L397.0,230.8 L396.0,233.4 L396.1,235.0 L394.3,234.2 L390.6,232.6Z" fill="url(#hatch)" class="bn"/>
<path d="M381.2,224.0 L382.9,223.2 L384.0,224.0 L384.0,228.2 L382.7,229.0 L381.4,229.0 L381.5,226.3Z" fill="url(#hatch)" class="bn"/>
<path d="M381.6,221.2 L383.1,218.6 L383.4,220.6 L382.9,222.7 L382.0,222.2Z" fill="url(#hatch)" class="bn"/>
<path d="M368.5,227.4 L370.2,226.6 L370.7,227.4 L369.4,228.2Z" fill="url(#hatch)" class="bn"/>
<path d="M414.8,237.8 L416.4,238.4 L419.0,238.6 L420.8,239.1 L420.2,239.4 L417.3,239.7 L414.9,238.9Z" fill="#ffffd4" class="b"/>
<path d="M434.0,240.2 L435.6,240.5 L437.6,239.4 L438.7,237.6 L436.4,238.6 L434.3,239.1Z" fill="#ffffd4" class="b"/>
<path d="M385.0,187.3 L387.7,186.8 L387.0,185.4 L384.5,186.1Z" fill="url(#hatch)" class="bn"/>
<path d="M382.3,187.8 L384.2,187.3 L383.8,186.6 L382.3,186.8Z" fill="url(#hatch)" class="bn"/>
<path d="M398.0,182.9 L399.2,181.9 L398.8,181.0 L397.8,181.9Z" fill="url(#hatch)" class="bn"/>
<path d="M308.4,291.9 L309.7,291.9 L309.7,292.1 L308.4,292.1Z" fill="url(#hatch)" class="bn"/>
<path d="M327.7,257.0 L332.2,256.2 L333.3,255.4 L328.7,258.3Z" fill="url(#hatch)" class="bn"/>
<path d="M485.9,297.9 L488.7,298.2 L488.0,298.9 L486.4,298.9Z" fill="url(#hatch)" class="bn"/>
<path d="M615.3,420.3 L616.0,415.0 L617.3,408.3 L616.7,400.3 L618.0,395.0 L619.3,389.7 L620.7,387.7 L626.0,385.0 L631.3,383.7 L636.7,382.3 L640.7,378.3 L643.3,375.0 L646.0,372.3 L650.0,369.0 L654.0,367.7 L656.7,369.0 L658.7,367.7 L661.3,364.3 L664.0,362.3 L666.0,360.3 L668.0,361.0 L671.3,361.7 L675.3,362.3 L676.7,363.7 L674.7,366.3 L673.3,369.7 L676.7,372.3 L679.3,375.0 L682.7,376.3 L684.7,373.7 L686.7,368.3 L688.7,363.0 L690.0,359.7 L691.3,363.0 L693.3,368.3 L695.3,373.7 L696.7,379.0 L699.3,383.0 L702.0,388.3 L704.0,392.3 L705.3,396.3 L706.0,400.3 L704.7,405.7 L702.0,411.0 L699.3,415.0 L695.3,419.0 L691.3,423.0 L687.3,427.0 L683.3,429.7 L679.3,431.7 L675.3,432.1 L671.3,431.0 L667.3,429.7 L665.3,427.7 L664.0,424.3 L664.4,420.3 L663.3,417.7 L661.3,421.7 L660.0,420.3 L658.7,417.7 L655.3,415.0 L651.3,413.7 L647.3,413.4 L643.3,413.7 L639.3,415.0 L635.3,416.3 L631.3,417.7 L627.3,419.0 L623.3,420.3 L619.3,421.7Z" fill="#ffffd4" class="b"/>
<path d="M668.2,438.8 L675.3,437.6 L676.5,440.0 L672.9,443.5 L668.2,443.5Z" fill="#ffffd4" class="b"/>
<path d="M705.9,450.6 L715.3,444.7 L724.7,438.8 L729.4,437.6 L730.6,440.0 L725.9,443.5 L718.8,448.2 L710.6,451.8Z" fill="#ffffd4" class="b"/>
<path d="M732.9,437.6 L737.6,430.6 L740.0,424.7 L740.0,421.2 L742.4,423.5 L745.9,429.4 L742.4,432.9 L736.5,436.5 L734.1,439.5Z" fill="#ffffd4" class="b"/>
<path d="M493.3,385.2 L494.8,385.2 L495.0,383.4 L493.4,383.4Z" fill="url(#hatch)" class="bn"/>
<path d="M488.5,387.5 L490.1,387.5 L490.3,385.6 L488.7,385.6Z" fill="url(#hatch)" class="bn"/>
<path d="M502.0,461.6 L504.4,461.6 L505.5,458.5 L503.1,458.5Z" fill="url(#hatch)" class="bn"/>
<path d="M462.5,362.7 L463.9,362.7 L464.0,361.1 L462.6,361.1Z" fill="url(#hatch)" class="bn"/>
<path d="M44.0,189.6 L60.0,184.4 L70.0,181.0 L66.0,180.0 L62.0,179.0 L60.0,176.6 L61.0,174.0 L66.0,172.0 L73.0,170.0 L79.0,168.0 L81.0,167.0 L79.0,166.0 L73.0,165.6 L70.4,164.0 L71.6,161.8 L79.0,160.6 L82.0,161.0 L81.6,158.0 L82.4,156.0 L88.0,154.6 L94.0,152.6 L101.0,151.0 L108.0,150.4 L114.0,151.4 L122.0,152.0 L128.0,153.6 L133.0,154.6 L140.0,153.6 L148.0,152.6 L150.0,152.8 L152.6,152.8 L155.2,153.7 L159.1,154.1 L162.9,155.0 L166.8,156.1 L168.1,157.4 L172.6,157.6 L175.9,158.0 L179.8,157.4 L183.6,156.7 L187.5,157.4 L192.7,157.4 L196.6,158.0 L199.2,158.9 L201.8,159.3 L204.4,157.4 L205.6,152.8 L207.6,150.2 L210.2,150.9 L210.8,154.8 L212.8,156.1 L216.0,158.4 L219.9,156.7 L223.1,155.4 L225.1,154.5 L226.4,156.1 L223.8,158.6 L220.5,160.6 L217.3,162.5 L214.7,163.2 L210.8,163.8 L208.9,165.1 L204.4,169.6 L199.2,171.6 L192.7,174.8 L188.8,176.8 L187.5,179.4 L188.8,181.9 L192.7,183.2 L196.6,184.5 L201.8,187.1 L203.7,189.7 L203.1,193.6 L204.4,196.8 L206.9,196.8 L207.6,195.3 L208.8,191.8 L209.4,189.4 L213.5,187.6 L217.1,185.3 L217.6,181.8 L218.2,178.2 L220.6,172.9 L222.4,171.2 L226.5,170.6 L230.0,171.2 L233.5,173.5 L235.3,177.6 L236.5,179.4 L240.0,177.6 L243.5,175.9 L244.7,178.8 L246.5,183.5 L248.8,186.5 L252.4,188.8 L253.8,193.5 L252.4,195.9 L250.0,197.6 L245.3,198.8 L240.6,200.0 L235.9,201.2 L232.4,201.8 L228.8,202.9 L225.3,204.7 L221.8,206.5 L218.8,208.2 L221.8,208.2 L226.5,206.1 L232.4,204.1 L231.2,207.1 L232.9,209.4 L235.9,210.8 L239.2,210.0 L237.6,212.0 L233.5,213.5 L228.8,215.5 L225.3,217.1 L221.8,217.6 L218.2,219.4 L214.7,221.2 L208.8,224.1 L204.1,225.9 L200.6,230.0 L200.0,232.0 L199.0,236.0 L196.0,240.0 L192.0,245.0 L188.0,250.0 L184.0,256.0 L183.6,261.0 L182.4,265.0 L181.0,264.0 L179.0,258.0 L176.0,254.0 L172.0,253.0 L166.0,253.6 L160.0,255.0 L154.0,256.0 L149.0,258.0 L145.0,263.6 L143.6,260.4 L141.0,257.0 L137.0,253.6 L133.0,254.0 L130.0,250.0 L125.6,247.6 L120.0,249.4 L113.0,248.4 L106.0,245.6 L105.0,243.0 L102.0,239.0 L100.0,234.0 L99.0,228.0 L100.0,222.0 L103.0,216.0 L107.0,211.0 L110.0,207.0 L112.0,203.0 L112.0,203.0 L109.0,199.4 L110.0,193.0 L111.0,189.0 L114.4,188.6 L112.4,185.0 L114.0,183.0 L113.0,178.0 L109.0,176.6 L104.0,175.0 L102.0,176.0 L96.0,175.4 L90.0,176.6 L83.0,178.0 L89.0,174.6 L88.0,174.0 L81.0,177.4 L76.0,179.4 L71.0,182.0 L60.0,185.6 L45.0,190.2Z" fill="#fed98e" class="b"/>
<path d="M159.7,149.6 L164.2,146.4 L169.4,144.4 L175.9,144.4 L179.8,145.7 L178.5,147.0 L183.6,147.6 L186.2,148.9 L190.1,147.6 L192.7,147.0 L194.0,149.6 L192.1,151.5 L194.0,153.5 L192.7,155.4 L188.8,156.1 L183.6,156.1 L178.5,156.7 L173.3,156.1 L169.4,155.4 L168.8,153.5 L170.7,152.2 L168.1,151.5 L164.2,150.9 L161.0,150.2Z" fill="#fed98e" class="b"/>
<path d="M175.2,139.9 L182.4,137.9 L188.8,137.3 L192.7,138.6 L199.2,140.3 L195.3,142.5 L186.2,143.1 L182.4,141.6Z" fill="#fed98e" class="b"/>
<path d="M194.0,136.9 L201.1,135.6 L201.8,137.0 L196.6,137.9Z" fill="#fed98e" class="b"/>
<path d="M205.6,141.6 L212.1,139.9 L217.3,140.5 L213.4,142.5 L206.9,142.5Z" fill="#fed98e" class="b"/>
<path d="M208.9,134.7 L214.7,135.4 L213.4,136.4 L209.5,136.0Z" fill="#fed98e" class="b"/>
<path d="M197.9,146.4 L204.4,145.1 L208.2,146.4 L205.6,148.9 L201.8,149.6 L199.2,148.3Z" fill="#fed98e" class="b"/>
<path d="M209.5,145.7 L214.7,144.4 L218.6,145.7 L214.7,147.6 L210.8,148.3Z" fill="#fed98e" class="b"/>
<path d="M216.0,137.9 L222.5,137.3 L226.4,139.2 L222.5,140.5 L217.3,139.9Z" fill="#fed98e" class="b"/>
<path d="M225.1,132.8 L232.8,130.8 L240.6,129.5 L250.9,128.2 L260.0,127.6 L260.0,132.1 L253.5,134.7 L248.4,136.0 L240.6,137.9 L236.7,139.2 L239.3,141.2 L235.4,142.5 L227.6,141.8 L222.5,141.8 L219.9,140.5 L226.4,137.3 L230.2,135.4 L226.4,134.7Z" fill="#fed98e" class="b"/>
<path d="M216.0,149.6 L219.9,146.4 L225.1,145.7 L230.2,146.0 L234.1,147.0 L239.3,147.6 L243.2,148.3 L246.4,150.9 L249.6,152.8 L250.3,155.4 L248.4,156.7 L252.2,158.6 L256.1,159.9 L253.5,162.5 L249.6,163.8 L246.4,165.1 L245.8,167.7 L243.2,169.6 L240.6,169.0 L238.0,167.1 L234.1,166.4 L230.2,166.2 L226.4,165.8 L225.1,164.5 L227.6,163.2 L230.2,161.9 L232.8,159.9 L236.7,157.4 L236.7,155.4 L232.8,154.8 L230.2,155.4 L227.6,154.1 L222.5,153.5 L218.6,152.8 L216.6,151.5Z" fill="#fed98e" class="b"/>
<path d="M224.7,133.5 L228.0,131.9 L236.2,129.9 L249.4,128.9 L262.6,128.3 L277.4,128.6 L272.5,129.9 L262.6,131.6 L254.4,133.5 L249.4,135.2 L244.5,137.6 L239.5,139.3 L234.6,138.5 L232.1,136.8 L228.0,136.0Z" fill="#fed98e" class="b"/>
<path d="M208.8,166.5 L213.5,164.1 L218.2,164.7 L219.4,167.1 L215.9,168.2 L211.2,168.8Z" fill="#fed98e" class="b"/>
<path d="M48.0,164.4 L53.0,161.0 L60.0,156.0 L63.0,158.0 L68.0,160.0 L67.0,163.0 L62.0,163.0 L60.0,165.0 L54.0,164.0Z" fill="#fed98e" class="b"/>
<path d="M57.0,166.4 L60.0,166.0 L61.6,168.0 L58.4,168.2Z" fill="#fed98e" class="b"/>
<path d="M67.0,150.6 L71.0,149.4 L73.0,150.6 L69.0,151.4Z" fill="#fed98e" class="b"/>
<path d="M70.0,182.0 L74.0,181.0 L77.0,182.6 L73.0,184.0Z" fill="#fed98e" class="b"/>
<path d="M106.0,198.0 L109.0,199.0 L113.0,204.0 L111.0,205.0 L107.0,202.0 L105.6,199.4Z" fill="#fed98e" class="b"/>
<path d="M254.1,135.5 L259.8,133.4 L268.2,130.6 L276.7,129.2 L286.6,128.5 L299.3,128.5 L307.8,127.8 L319.1,127.3 L330.4,127.8 L338.8,129.2 L345.9,130.2 L338.8,131.3 L334.6,133.4 L333.9,136.9 L331.8,141.2 L330.4,144.7 L327.5,148.2 L324.7,151.1 L321.2,153.2 L316.2,155.3 L310.6,157.4 L304.9,159.5 L299.3,161.6 L293.6,163.8 L289.4,166.6 L286.6,170.1 L283.8,173.6 L280.9,175.8 L277.4,175.1 L273.9,172.2 L271.8,168.0 L270.4,162.4 L271.1,158.1 L273.2,154.6 L273.9,150.4 L272.5,145.4 L269.6,141.2 L264.0,138.4 L256.9,137.6Z" fill="url(#hatch)" class="bn"/>
<path d="M321.1,162.4 L325.2,160.7 L331.8,161.5 L336.7,160.7 L338.4,164.0 L335.1,166.5 L328.5,167.3 L322.7,165.6Z" fill="url(#hatch)" class="bn"/>
<path d="M9.0,278.5 L11.5,279.5 L11.0,281.5 L9.5,281.5Z" fill="#fed98e" class="b"/>
<path d="M5.0,274.5 L7.0,274.8 L7.5,276.0 L6.0,276.0Z" fill="#fed98e" class="b"/>
<path d="M7.5,276.0 L9.5,276.5 L9.5,277.5 L8.0,277.3Z" fill="#fed98e" class="b"/>
<path d="M2.0,272.8 L3.5,272.8 L3.5,273.8 L2.0,273.8Z" fill="#fed98e" class="b"/>
<path d="M106.0,245.6 L113.0,248.4 L120.0,249.4 L125.6,247.6 L130.0,250.0 L133.0,254.0 L137.0,253.6 L141.0,257.0 L143.6,260.4 L145.0,264.4 L143.0,268.4 L143.2,273.0 L145.0,278.0 L148.4,281.8 L151.9,282.5 L156.1,280.4 L158.2,276.9 L160.4,275.9 L166.4,275.2 L166.0,277.6 L163.9,281.1 L161.8,283.9 L160.8,285.4 L160.4,288.9 L158.9,291.0 L157.5,293.4 L154.7,294.5 L152.6,292.8 L151.2,289.6 L146.9,287.8 L142.7,288.9 L138.5,287.5 L132.8,284.6 L130.0,283.2 L128.0,281.0 L125.6,276.0 L123.0,270.0 L120.0,265.0 L117.0,259.0 L114.0,254.0 L112.0,249.6 L110.4,253.0 L112.4,259.0 L115.0,265.0 L116.6,271.0 L115.2,270.4 L112.4,265.0 L109.6,259.0 L107.6,253.6 L106.0,249.0Z" fill="#fe9929" class="b"/>
<path d="M160.8,285.4 L161.8,283.2 L162.5,285.4 L161.6,288.2 L160.4,288.6Z" fill="url(#hatch)" class="bn"/>
<path d="M158.9,290.3 L160.4,288.9 L163.2,288.9 L167.4,288.6 L171.6,289.6 L172.4,291.7 L168.1,293.1 L165.3,294.5 L163.2,295.2 L160.4,295.9 L157.5,294.5 L157.5,293.4Z" fill="url(#hatch)" class="bn"/>
<path d="M163.2,295.2 L165.3,294.5 L168.1,293.1 L172.4,291.7 L172.4,295.9 L171.2,300.2 L170.2,302.3 L167.4,301.6 L164.6,298.8 L163.2,296.6Z" fill="#fed98e" class="b"/>
<path d="M164.6,301.6 L167.4,301.6 L170.2,302.3 L172.4,304.4 L175.2,306.5 L178.7,307.9 L180.8,307.2 L182.9,307.9 L184.4,310.1 L182.5,311.5 L179.4,310.8 L176.6,310.1 L173.8,309.4 L170.9,307.9 L168.1,305.8 L166.0,304.4Z" fill="url(#hatch)" class="bn"/>
<path d="M171.6,272.6 L175.2,270.8 L180.8,270.5 L186.5,272.6 L190.7,274.8 L194.9,277.6 L190.7,278.3 L186.5,276.9 L182.2,275.5 L178.0,274.5 L173.8,274.1Z" fill="url(#hatch)" class="bn"/>
<path d="M194.2,279.0 L199.2,278.3 L204.8,279.7 L207.6,281.8 L203.4,283.2 L199.2,283.9 L195.6,282.5Z" fill="url(#hatch)" class="bn"/>
<path d="M185.1,282.5 L187.9,282.1 L189.3,283.7 L186.5,284.2Z" fill="url(#hatch)" class="bn"/>
<path d="M209.8,282.2 L214.0,282.2 L214.0,283.9 L209.8,283.9Z" fill="#ffffd4" class="b"/>
<path d="M186.5,260.6 L190.7,261.4 L190.0,262.8 L187.2,262.1Z" fill="url(#hatch)" class="bn"/>
<path d="M186.5,265.6 L188.6,264.9 L189.0,268.4 L187.2,268.0Z" fill="url(#hatch)" class="bn"/>
<path d="M184.0,308.0 L185.0,306.0 L189.0,303.0 L195.0,301.0 L198.0,299.0 L200.0,298.6 L201.0,301.0 L205.0,302.0 L211.0,303.0 L217.0,303.4 L222.0,304.0 L224.0,307.0 L224.0,311.0 L225.0,312.0 L229.0,315.0 L234.0,317.0 L239.0,319.0 L244.0,321.0 L247.0,325.0 L248.0,330.0 L251.0,332.0 L257.0,335.0 L261.0,337.0 L269.0,338.0 L277.0,342.0 L282.0,345.0 L283.0,350.0 L281.0,355.0 L279.0,359.0 L276.0,364.0 L275.0,370.0 L274.0,377.0 L273.0,383.0 L269.0,388.0 L263.0,391.0 L259.0,393.0 L256.0,397.0 L254.0,403.0 L251.0,409.0 L248.0,414.6 L246.1,417.2 L243.0,420.2 L239.9,421.8 L238.4,424.8 L239.9,427.9 L236.9,430.9 L232.3,432.5 L230.0,434.0 L230.8,437.1 L227.7,439.4 L229.2,443.9 L226.9,447.0 L226.7,447.5 L225.0,450.0 L227.5,452.5 L228.8,455.0 L227.1,458.3 L226.7,461.7 L225.8,464.2 L227.5,466.7 L230.8,469.6 L234.2,471.7 L237.1,473.3 L233.3,474.8 L230.0,474.3 L225.8,473.1 L221.7,471.0 L217.5,468.5 L214.2,465.2 L211.7,461.8 L210.2,457.7 L210.5,454.3 L208.5,452.2 L208.8,446.7 L209.3,442.7 L208.2,443.8 L207.5,439.2 L206.2,434.2 L205.4,430.0 L205.5,413.4 L204.5,404.2 L205.1,395.0 L205.0,395.0 L204.0,389.0 L203.4,383.0 L203.0,378.0 L200.0,375.0 L195.0,371.0 L189.0,367.0 L185.0,361.0 L181.0,355.0 L177.0,350.0 L176.0,345.0 L177.4,341.0 L176.6,337.0 L179.0,331.0 L182.0,327.0 L184.0,325.0 L185.0,321.0 L184.0,315.0 L183.0,311.0Z" fill="#fed98e" class="b"/>
<path d="M196.0,302.0 L198.0,299.0 L200.0,300.0 L201.0,303.0 L205.0,302.0 L211.0,303.0 L217.0,303.4 L222.0,304.0 L224.0,307.0 L224.0,311.0 L223.0,315.0 L220.0,318.0 L216.0,319.0 L214.0,325.0 L211.0,328.0 L208.0,325.0 L207.0,319.0 L205.0,315.0 L202.0,312.0 L199.0,310.0 L196.0,308.0 L195.0,304.0Z" fill="#fe9929" class="b"/>
<path d="M198.6,303.0 L200.6,303.4 L201.0,306.0 L199.4,307.4 L198.2,305.4Z" fill="#ffffff" class="b"/>
<path d="M176.0,335.0 L180.0,330.0 L185.0,329.0 L189.0,331.0 L190.0,334.0 L187.0,337.0 L182.0,340.0 L179.0,343.0 L177.4,340.0 L177.0,337.0Z" fill="#fe9929" class="b"/>
<path d="M224.0,311.0 L225.0,312.0 L229.0,315.0 L234.0,317.0 L239.0,319.0 L244.0,321.0 L247.0,325.0 L246.0,327.0 L241.0,325.0 L235.0,326.0 L229.0,327.0 L226.0,325.0 L223.0,321.0 L223.0,315.0Z" fill="url(#hatch)" class="bn"/>
<path d="M221.6,389.4 L224.6,382.6 L229.0,381.8 L231.0,383.1 L232.1,385.5 L232.0,388.9 L237.0,389.7 L238.3,393.9 L240.1,394.1 L241.0,398.1 L240.6,400.7 L238.7,403.1 L232.1,402.5 L233.8,398.3 L230.8,396.2 L227.9,394.1 L222.3,390.2Z" fill="url(#hatch)" class="bn"/>
<path d="M203.0,378.0 L205.0,379.0 L208.0,385.0 L211.0,392.0 L210.0,397.0 L209.0,403.0 L208.0,409.0 L208.6,404.2 L210.1,417.9 L210.9,425.6 L210.8,430.0 L210.4,435.0 L211.2,440.8 L211.7,445.0 L214.2,446.7 L215.0,451.7 L215.4,457.5 L216.7,460.8 L220.0,463.3 L224.2,465.8 L227.1,466.7 L227.9,467.9 L228.3,470.8 L229.3,474.0 L225.8,473.1 L221.7,471.0 L217.5,468.5 L214.2,465.2 L211.7,461.8 L210.2,457.7 L210.5,454.3 L208.5,452.2 L208.8,446.7 L209.3,442.7 L208.2,443.8 L207.5,439.2 L206.2,434.2 L205.4,430.0 L205.5,413.4 L204.5,404.2 L205.1,395.0 L205.0,395.0 L204.0,389.0 L203.4,383.0Z" fill="#fe9929" class="b"/>
<path d="M324.6,275.3 L333.9,275.3 L334.0,270.9 L336.3,269.6 L336.4,263.0 L343.9,259.6" class="ln"/>
<path d="M343.9,259.6 L352.6,265.6 L348.5,265.6 L350.8,288.2 L337.3,290.8 L335.4,292.6 L331.4,287.7 L325.6,288.7" class="ln"/>
<path d="M343.9,258.6 L344.0,255.9 L351.2,252.5 L355.2,248.3 L359.7,246.0 L359.5,240.7 L358.6,239.1" class="ln"/>
<path d="M352.6,265.6 L366.1,276.1 L372.5,280.8 L376.6,280.1 L390.5,269.6" class="ln"/>
<path d="M372.5,280.8 L371.6,290.5 L365.7,291.9 L362.9,291.6" class="ln"/>
<path d="M362.9,291.6 L358.8,293.2 L354.2,295.8 L350.7,299.7 L350.7,303.7 L345.0,305.0 L343.8,301.3 L337.0,298.7 L335.4,292.6" class="ln"/>
<path d="M324.8,298.9 L331.9,298.7 L337.0,298.7" class="ln"/>
<path d="M328.4,302.4 L331.9,298.7" class="ln"/>
<path d="M324.8,295.5 L329.0,295.5 L331.2,296.3 L325.0,296.8" class="ln"/>
<path d="M332.7,306.8 L338.0,305.0 L339.2,308.9 L336.8,312.8" class="ln"/>
<path d="M339.2,308.9 L344.2,308.9 L346.1,309.4 L346.1,318.1" class="ln"/>
<path d="M344.2,308.9 L345.0,305.0" class="ln"/>
<path d="M356.5,317.8 L356.9,306.3 L357.4,302.4" class="ln"/>
<path d="M350.7,303.7 L356.5,302.4 L363.4,302.4 L365.7,301.8 L368.9,298.9" class="ln"/>
<path d="M366.2,315.2 L364.6,303.7 L363.4,302.4" class="ln"/>
<path d="M367.3,314.9 L365.7,302.4 L368.9,298.9 L371.7,300.5" class="ln"/>
<path d="M363.9,292.1 L365.7,297.1 L368.9,298.9" class="ln"/>
<path d="M398.5,270.9 L398.7,278.7 L399.3,287.9 L394.4,295.3" class="ln"/>
<path d="M418.0,280.1 L418.4,290.5 L415.0,294.5 L414.0,298.4 L415.2,302.4 L417.6,305.0" class="ln"/>
<path d="M396.7,298.4 L398.0,305.0 L395.7,307.6 L399.2,311.5 L402.6,310.7 L407.2,307.6 L412.9,302.9 L415.2,302.4" class="ln"/>
<path d="M417.6,305.0 L421.0,305.0 L425.7,306.3 L432.6,305.8 L437.0,299.7 L441.7,303.7" class="ln"/>
<path d="M447.2,293.7 L448.0,286.6 L451.5,284.0" class="ln"/>
<path d="M417.6,305.0 L421.1,311.5 L426.8,317.8" class="ln"/>
<path d="M426.8,317.8 L434.0,322.0 L440.9,321.2 L442.0,319.1" class="ln"/>
<path d="M434.0,322.0 L435.6,325.4 L432.9,328.6 L432.4,334.9 L434.0,333.8 L441.9,333.8" class="ln"/>
<path d="M399.2,311.5 L396.9,318.1 L398.1,320.7 L400.4,325.4 L401.6,322.0 L406.4,322.0 L409.7,319.9 L415.4,320.2 L421.2,318.1 L426.8,317.8" class="ln"/>
<path d="M386.1,325.4 L389.6,325.4 L393.5,325.4 L400.4,325.4" class="ln"/>
<path d="M393.5,325.4 L394.0,327.8 L397.0,336.4 L391.2,343.0 L388.8,341.2" class="ln"/>
<path d="M389.6,325.4 L389.6,328.6 L385.4,328.6" class="ln"/>
<path d="M406.4,322.0 L404.4,331.2 L400.9,333.8 L400.4,339.1 L393.5,343.8 L391.6,346.4" class="ln"/>
<path d="M391.6,346.4 L400.8,346.9 L403.8,352.2 L408.4,352.2 L409.6,349.6 L413.7,350.3 L414.1,356.6 L418.7,360.0 L418.5,365.3" class="ln"/>
<path d="M418.5,365.3 L414.0,365.3 L413.7,373.7 L416.6,377.4" class="ln"/>
<path d="M390.4,376.6 L394.3,375.8 L404.5,377.1 L411.3,378.4 L416.6,377.4 L421.2,377.9" class="ln"/>
<path d="M418.7,360.0 L426.6,363.5 L430.0,366.3 L431.8,366.3 L429.0,362.7 L429.1,354.8 L433.8,353.0" class="ln"/>
<path d="M433.8,353.0 L430.9,343.0 L431.7,335.1 L432.9,331.2 L435.6,325.4" class="ln"/>
<path d="M433.8,353.0 L438.4,354.8 L440.6,358.7 L439.3,364.0 L439.6,367.9 L432.7,369.2 L433.0,372.1" class="ln"/>
<path d="M439.3,364.0 L442.5,369.2 L444.7,373.2 L443.4,375.8 L438.6,375.0" class="ln"/>
<path d="M440.6,358.7 L442.8,361.4 L450.9,360.6 L456.7,358.7" class="ln"/>
<path d="M430.5,338.5 L434.7,337.5 L434.0,333.8 L431.7,335.1" class="ln"/>
<path d="M430.9,343.0 L434.0,340.4 L434.7,337.5" class="ln"/>
<path d="M411.3,378.4 L408.7,388.9 L408.5,396.2 L408.1,405.7 L400.2,406.2" class="ln"/>
<path d="M408.5,396.2 L415.2,397.6 L420.8,398.6 L424.4,394.1 L430.0,389.4" class="ln"/>
<path d="M434.3,389.9 L435.6,394.1 L435.2,401.5" class="ln"/>
<path d="M423.5,408.8 L427.0,406.2 L428.9,408.6 L426.0,411.5 L423.5,408.8" class="ln"/>
<path d="M459.6,301.8 L462.4,301.0" class="ln"/>
<path d="M460.1,320.7 L458.3,323.9 L458.3,335.7" class="ln"/>
<path d="M467.2,318.3 L473.7,310.2 L476.0,301.6" class="ln"/>
<path d="M344.6,221.4 L346.1,220.9 L349.5,221.4 L348.8,223.7 L348.4,227.1 L347.3,227.9 L348.3,231.0 L347.2,232.9" class="ln"/>
<path d="M359.6,217.5 L363.4,219.3 L366.6,219.9 L370.1,220.1" class="ln"/>
<path d="M368.4,197.8 L371.4,199.8 L373.0,200.6 L375.1,201.9 L376.3,201.9" class="ln"/>
<path d="M375.8,210.3 L377.5,207.2 L378.9,206.7" class="ln"/>
<path d="M379.1,216.5 L377.9,213.4 L377.4,211.3 L375.8,210.3" class="ln"/>
<path d="M375.8,210.3 L377.8,211.1 L380.9,210.3 L382.0,211.3 L385.0,209.5 L382.8,207.0" class="ln"/>
<path d="M384.9,208.8 L388.6,208.0 L391.6,209.5" class="ln"/>
<path d="M391.6,209.5 L396.3,209.0 L397.1,206.5 L398.4,205.7" class="ln"/>
<path d="M391.6,209.5 L391.5,212.1" class="ln"/>
<path d="M391.5,212.1 L395.4,211.3 L397.3,209.5 L402.2,211.1 L402.7,212.1" class="ln"/>
<path d="M396.3,214.2 L397.6,212.9 L402.9,213.6" class="ln"/>
<path d="M402.3,219.9 L403.6,217.3" class="ln"/>
<path d="M404.4,221.4 L405.5,219.6 L406.2,220.4" class="ln"/>
<path d="M406.2,220.4 L407.1,223.7 L407.8,224.0" class="ln"/>
<path d="M407.1,223.7 L411.9,223.0 L411.9,220.6 L410.6,219.9" class="ln"/>
<path d="M411.9,223.0 L418.6,221.9 L422.3,221.2" class="ln"/>
<path d="M419.8,223.0 L422.6,222.2" class="ln"/>
<path d="M409.2,190.5 L409.6,193.1 L410.5,193.8 L410.3,196.6" class="ln"/>
<path d="M403.6,185.4 L414.5,186.3" class="ln"/>
<path d="M409.2,190.5 L412.1,190.0 L414.5,186.3 L417.4,185.4" class="ln"/>
<path d="M409.2,181.0 L415.4,181.9" class="ln"/>
<path d="M384.9,178.3 L386.3,173.5 L385.2,167.6 L388.2,165.2 L390.7,160.7 L394.2,156.2 L397.9,155.1" class="ln"/>
<path d="M405.3,162.3 L404.5,160.0 L403.4,157.3 L397.9,155.1" class="ln"/>
<path d="M397.9,155.1 L400.0,152.6" class="ln"/>
<path d="M400.0,152.6 L405.6,155.5 L409.2,152.8 L411.9,153.7" class="ln"/>
<path d="M417.5,205.2 L419.2,204.4 L422.9,206.0 L424.8,207.5 L422.8,209.5 L421.5,210.3 L421.7,212.1" class="ln"/>
<path d="M441.9,235.2 L442.9,234.7 L445.7,234.7 L449.9,233.9 L455.1,233.9" class="ln"/>
<path d="M460.2,233.7 L458.8,231.6 L457.8,227.9 L456.2,225.0" class="ln"/>
<path d="M448.6,243.6 L443.4,240.5" class="ln"/>
<path d="M461.6,221.4 L459.3,222.7" class="ln"/>
<path d="M461.6,285.3 L468.5,285.8 L472.0,286.6 L475.1,282.7 L481.9,281.4 L489.7,278.7" class="ln"/>
<path d="M481.9,281.4 L484.6,287.7" class="ln"/>
<path d="M489.7,278.7 L487.9,272.2 L481.0,270.9 L479.8,267.5" class="ln"/>
<path d="M489.7,266.9 L489.6,270.9 L490.3,265.9" class="ln"/>
<path d="M467.0,254.9 L471.4,256.5" class="ln"/>
<path d="M475.3,221.2 L482.1,223.0 L485.5,219.9 L490.1,221.2 L493.2,223.2 L497.1,227.6 L502.0,230.3 L507.0,233.1" class="ln"/>
<path d="M496.1,235.2 L499.7,238.6 L502.5,236.8 L504.9,233.4 L507.0,233.1 L510.0,233.7" class="ln"/>
<path d="M507.0,233.1 L508.0,228.4 L510.2,227.6 L510.7,224.3 L513.5,223.7 L515.2,222.4" class="ln"/>
<path d="M542.1,255.7 L545.6,257.8 L551.5,259.6 L556.4,261.4 L561.1,261.7 L560.4,258.0" class="ln"/>
<path d="M562.3,259.6 L564.8,260.9 L569.7,260.7 L568.0,258.0" class="ln"/>
<path d="M605.5,293.4 L607.7,293.2 L610.0,292.9" class="ln"/>
<path d="M591.2,277.7 L592.9,274.6 L594.8,272.5" class="ln"/>
<path d="M628.6,226.6 L631.2,222.4 L633.6,221.2 L636.2,220.1 L638.3,219.9" class="ln"/>
<path d="M231.2,315.7 L232.7,322.0 L233.8,326.0" class="ln"/>
<path d="M238.6,316.3 L238.0,322.0 L238.4,325.4" class="ln"/>
<path d="M652.0,354.8 L651.4,357.2" class="ln"/>
<path d="M128.0,153.6 L120.0,162.0 L112.0,169.0 L104.0,175.0" class="l"/>
<path d="M115.4,203.5 L170.0,203.5 L172.0,203.5 L178.0,205.0 L186.0,206.0 L191.0,210.0 L192.0,214.0 L189.0,221.0 L196.0,220.0 L204.0,216.0 L212.0,213.0 L220.0,210.0 L224.0,208.0" class="l"/>
<path d="M152.6,292.8 L153.3,288.9 L155.4,285.4 L160.4,284.9" class="l"/>
<path d="M190.0,334.0 L195.0,337.0 L201.0,338.0" class="l"/>
<path d="M211.0,328.0 L205.0,327.0 L202.0,330.0 L201.0,338.0 L198.0,341.0 L195.0,345.0 L194.0,352.0 L197.0,355.0 L205.0,359.0 L204.0,365.0 L203.0,378.0" class="l"/>
<path d="M205.0,359.0 L213.0,357.0 L216.0,361.0 L223.0,364.0 L226.0,370.0 L231.0,379.0 L230.0,383.0 L223.0,384.0" class="l"/>
<path d="M210.0,389.0 L222.0,389.0" class="l"/>
<path d="M240.0,401.0 L239.0,407.0 L235.0,410.0 L236.0,415.0" class="l"/>
<path d="M236.9,409.5 L241.5,412.6 L246.1,416.4" class="l"/>
<path d="M235.7,408.8 L235.4,416.4 L239.2,421.0" class="l"/>
<path d="M185.0,306.0 L184.0,308.0" class="l"/>
</g>
<g id="legend">
<text class="leg" x="268" y="530" text-anchor="middle">No data</text>
<line x1="268" y1="534.5" x2="268" y2="537.5" stroke="#999" stroke-width="0.6"/>
<rect x="244.5" y="537.5" width="47.5" height="11" fill="url(#hatch)" stroke="#ccc" stroke-width="0.8"/>
<rect x="312.2" y="537.3" width="58.7" height="11.2" fill="#ffffd4"/>
<rect x="370.9" y="537.3" width="58.7" height="11.2" fill="#fed98e"/>
<rect x="429.6" y="537.3" width="58.7" height="11.2" fill="#fe9929"/>
<rect x="488.3" y="537.3" width="58.7" height="11.2" fill="#d95f0e"/>
<path d="M547,537.3 L599.3,537.3 L605,542.9 L599.3,548.5 L547,548.5Z" fill="#993404"/>
<path d="M312.2,537.3 H547 M312.2,548.5 H547 M312.2,537.3 V548.5 M370.9,537.3 V548.5 M429.6,537.3 V548.5 M488.3,537.3 V548.5 M547,537.3 V548.5" stroke="#999" stroke-width="0.4" stroke-opacity="0.6" fill="none"/>
<g stroke="#999" stroke-width="0.6"><line x1="312.2" y1="534.5" x2="312.2" y2="537.3"/><line x1="370.9" y1="534.5" x2="370.9" y2="537.3"/><line x1="429.6" y1="534.5" x2="429.6" y2="537.3"/><line x1="488.3" y1="534.5" x2="488.3" y2="537.3"/><line x1="547" y1="534.5" x2="547" y2="537.3"/></g>
<text class="leg" x="312.2" y="530" text-anchor="middle">1</text>
<text class="leg" x="370.9" y="530" text-anchor="middle">1.5</text>
<text class="leg" x="429.6" y="530" text-anchor="middle">2</text>
<text class="leg" x="488.3" y="530" text-anchor="middle">2.5</text>
<text class="leg" x="547" y="530" text-anchor="middle">3</text>
</g>
</svg>
<div class="t" id="src"><b style="letter-spacing:-0.4px">Data source:</b> World Values Survey (1981-2022)</div>
<div class="t" id="url">OurWorldinData.org/terrorism | CC BY</div>
</body></html>
